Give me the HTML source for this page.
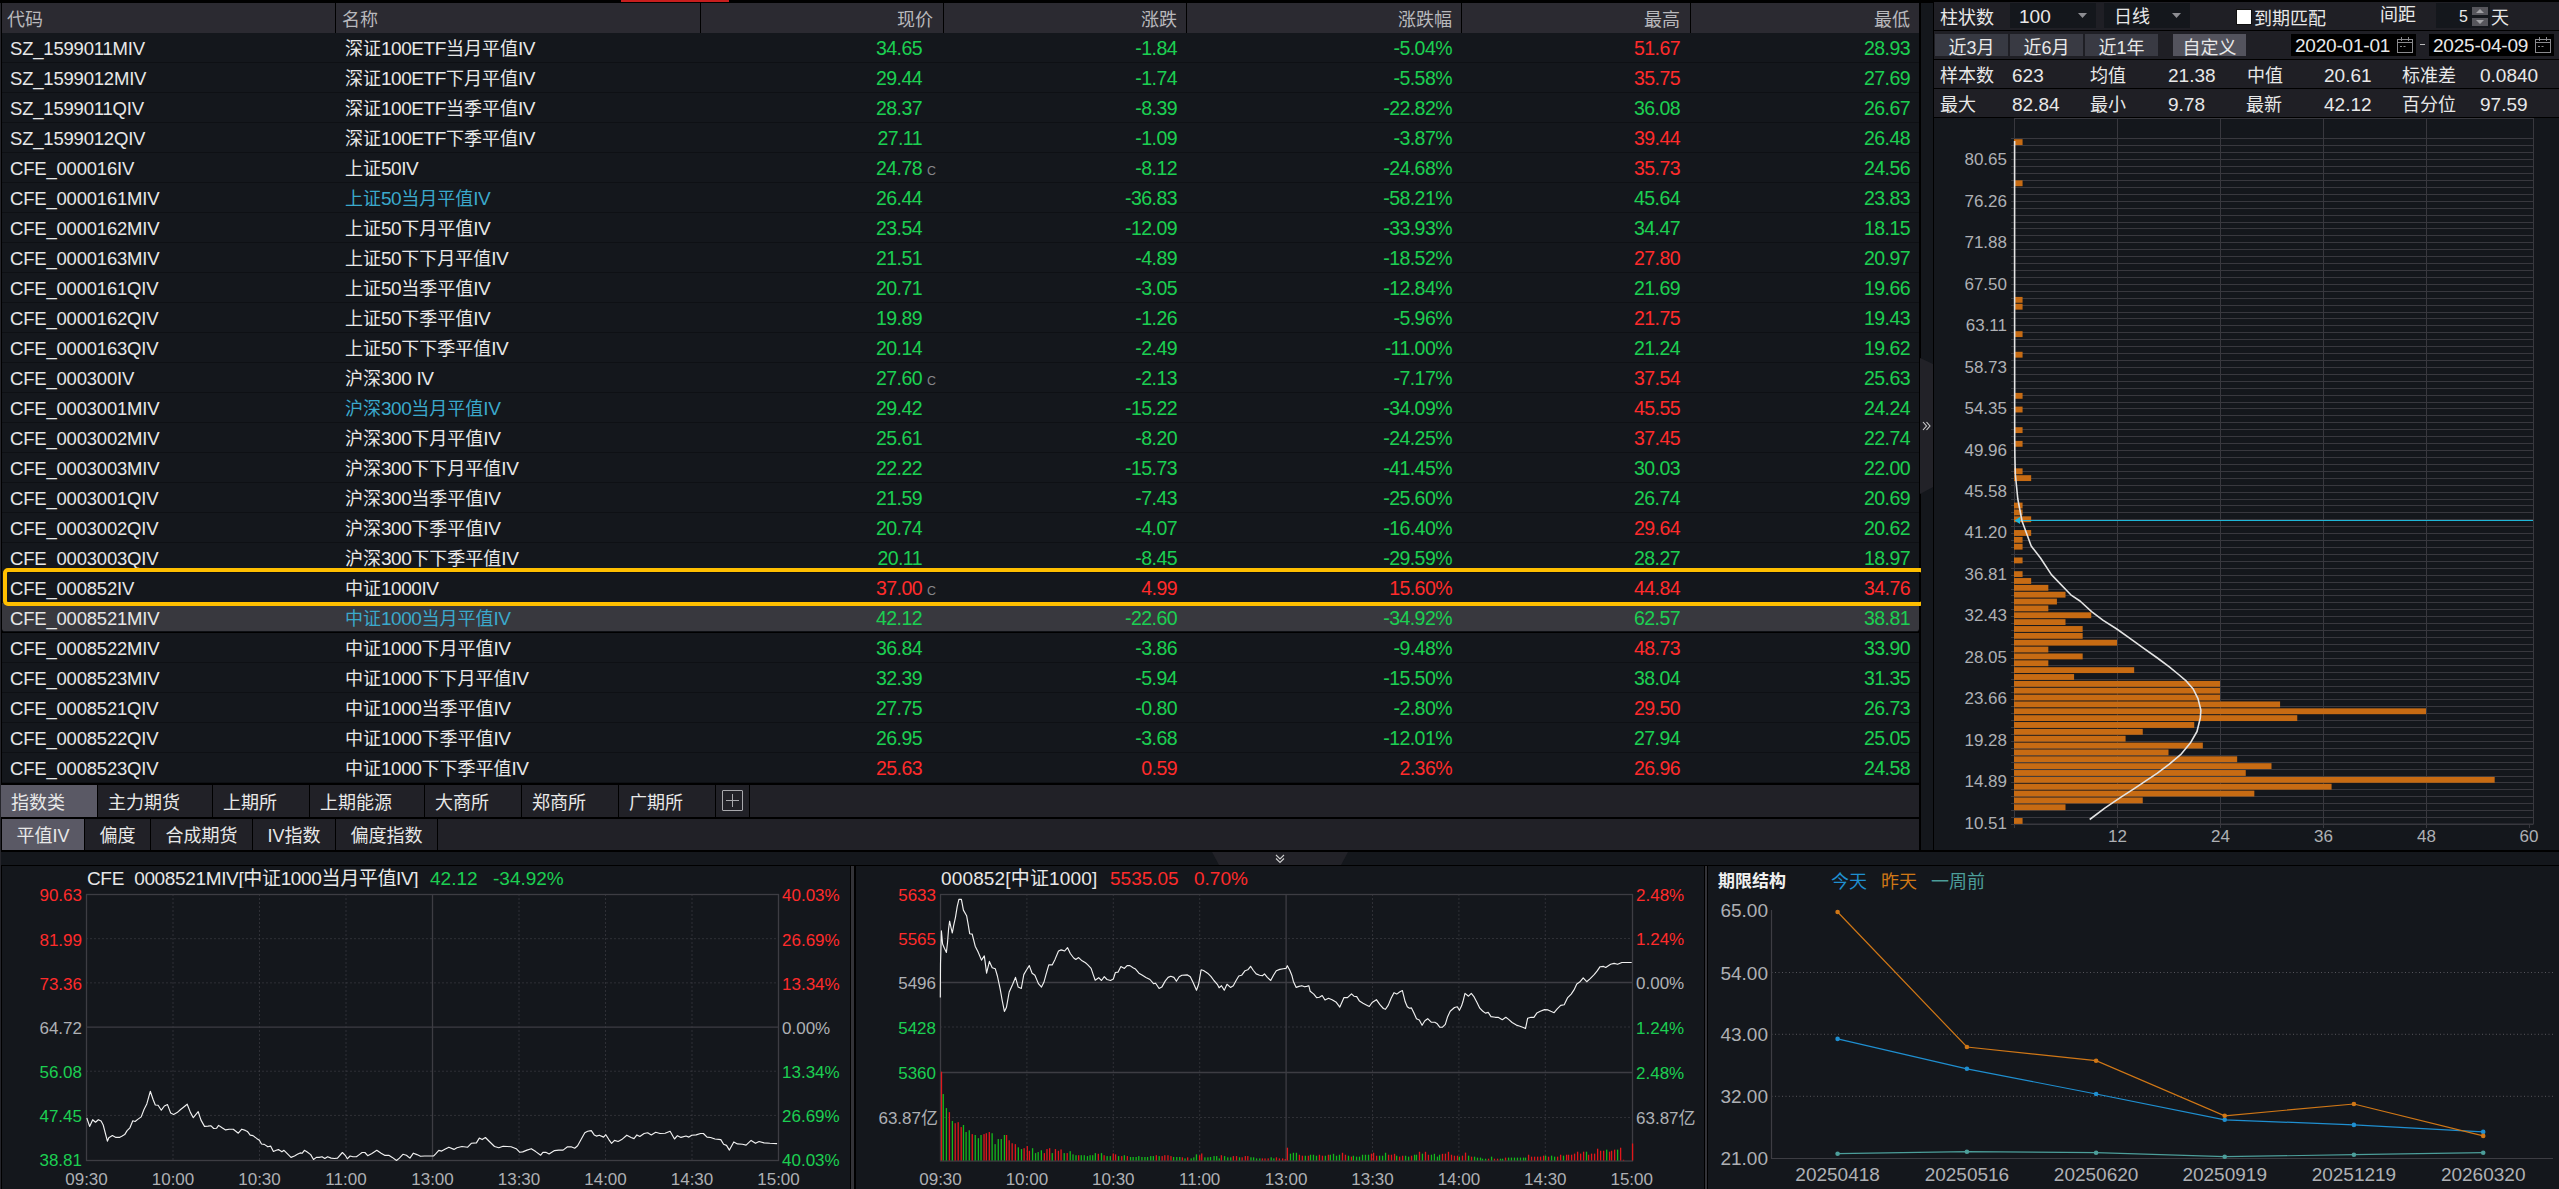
<!DOCTYPE html>
<html lang="zh-CN">
<head>
<meta charset="utf-8">
<title>IV</title>
<style>
html,body{margin:0;padding:0;background:#000;}
#root{position:relative;width:2559px;height:1189px;overflow:hidden;background:#000;font-family:"Liberation Sans", "Noto Sans CJK SC", sans-serif;color:#e8e8e8;}
.a{position:absolute;}
.t{position:absolute;white-space:nowrap;}
.hdr{position:absolute;top:3px;height:30px;background:#2b2a31;}
.ht{position:absolute;top:5px;height:30px;line-height:30px;font-size:18px;color:#b8b8bc;white-space:nowrap;}
.row{position:absolute;left:2px;width:1917px;height:29px;background:#14171c;border-bottom:1px solid #0e1014;}
.c{position:absolute;height:30px;line-height:30px;font-size:18px;margin-top:1px;white-space:nowrap;}
.r{text-align:right;}
.n{font-size:19.5px;letter-spacing:-0.55px;margin-top:0.4px;}
.cd{font-size:18.5px;letter-spacing:-0.2px;}
.ln{font-size:19px;letter-spacing:-0.45px;}
.g{color:#1ccf52;} .rd{color:#ff2b2b;} .cy{color:#3ba9cc;}
.mk{font-size:12.5px;color:#86868a;}
.tab{position:absolute;height:32px;line-height:36px;font-size:18px;color:#e8e8e8;background:#212127;white-space:nowrap;}
.tab2{position:absolute;height:31px;line-height:35px;font-size:18px;color:#e8e8e8;background:#212127;white-space:nowrap;text-align:center;}
.tb{position:absolute;font-size:18px;color:#e8e8e8;white-space:nowrap;}
.btn{position:absolute;top:34px;height:22px;line-height:28px;overflow:hidden;font-size:18px;text-align:center;color:#e8e8e8;background:#393a43;}
svg text{font-family:"Liberation Sans", "Noto Sans CJK SC", sans-serif;}
</style>
</head>
<body>
<div id="root">
<div class="a" style="left:0;top:3px;width:1px;height:1186px;background:#25252b"></div>
<div class="a" style="left:621px;top:0;width:108px;height:2px;background:#c81e1e"></div>
<div class="hdr" style="left:2px;width:1917px"></div>
<div class="a" style="left:335px;top:3px;width:1px;height:30px;background:#000"></div>
<div class="a" style="left:700px;top:3px;width:1px;height:30px;background:#000"></div>
<div class="a" style="left:943px;top:3px;width:1px;height:30px;background:#000"></div>
<div class="a" style="left:1186px;top:3px;width:1px;height:30px;background:#000"></div>
<div class="a" style="left:1461px;top:3px;width:1px;height:30px;background:#000"></div>
<div class="a" style="left:1690px;top:3px;width:1px;height:30px;background:#000"></div>
<div class="ht" style="left:7px">代码</div>
<div class="ht" style="left:342px">名称</div>
<div class="ht r" style="right:1626px">现价</div>
<div class="ht r" style="right:1382px">涨跌</div>
<div class="ht r" style="right:1107px">涨跌幅</div>
<div class="ht r" style="right:879px">最高</div>
<div class="ht r" style="right:649px">最低</div>
<div class="row" style="top:33px;"></div>
<div class="c cd" style="left:10px;top:33px">SZ_1599011MIV</div>
<div class="c" style="left:345px;top:33px">深证<span class="ln">100ETF</span>当月平值<span class="ln">IV</span></div>
<div class="c r n g" style="right:1637px;top:33px">34.65</div>
<div class="c r n g" style="right:1382px;top:33px">-1.84</div>
<div class="c r n g" style="right:1107px;top:33px">-5.04%</div>
<div class="c r n rd" style="right:879px;top:33px">51.67</div>
<div class="c r n g" style="right:649px;top:33px">28.93</div>
<div class="row" style="top:63px;"></div>
<div class="c cd" style="left:10px;top:63px">SZ_1599012MIV</div>
<div class="c" style="left:345px;top:63px">深证<span class="ln">100ETF</span>下月平值<span class="ln">IV</span></div>
<div class="c r n g" style="right:1637px;top:63px">29.44</div>
<div class="c r n g" style="right:1382px;top:63px">-1.74</div>
<div class="c r n g" style="right:1107px;top:63px">-5.58%</div>
<div class="c r n rd" style="right:879px;top:63px">35.75</div>
<div class="c r n g" style="right:649px;top:63px">27.69</div>
<div class="row" style="top:93px;"></div>
<div class="c cd" style="left:10px;top:93px">SZ_1599011QIV</div>
<div class="c" style="left:345px;top:93px">深证<span class="ln">100ETF</span>当季平值<span class="ln">IV</span></div>
<div class="c r n g" style="right:1637px;top:93px">28.37</div>
<div class="c r n g" style="right:1382px;top:93px">-8.39</div>
<div class="c r n g" style="right:1107px;top:93px">-22.82%</div>
<div class="c r n g" style="right:879px;top:93px">36.08</div>
<div class="c r n g" style="right:649px;top:93px">26.67</div>
<div class="row" style="top:123px;"></div>
<div class="c cd" style="left:10px;top:123px">SZ_1599012QIV</div>
<div class="c" style="left:345px;top:123px">深证<span class="ln">100ETF</span>下季平值<span class="ln">IV</span></div>
<div class="c r n g" style="right:1637px;top:123px">27.11</div>
<div class="c r n g" style="right:1382px;top:123px">-1.09</div>
<div class="c r n g" style="right:1107px;top:123px">-3.87%</div>
<div class="c r n rd" style="right:879px;top:123px">39.44</div>
<div class="c r n g" style="right:649px;top:123px">26.48</div>
<div class="row" style="top:153px;"></div>
<div class="c cd" style="left:10px;top:153px">CFE_000016IV</div>
<div class="c" style="left:345px;top:153px">上证<span class="ln">50IV</span></div>
<div class="c r n g" style="right:1637px;top:153px">24.78</div>
<div class="c mk" style="left:927px;top:155px">C</div>
<div class="c r n g" style="right:1382px;top:153px">-8.12</div>
<div class="c r n g" style="right:1107px;top:153px">-24.68%</div>
<div class="c r n rd" style="right:879px;top:153px">35.73</div>
<div class="c r n g" style="right:649px;top:153px">24.56</div>
<div class="row" style="top:183px;"></div>
<div class="c cd" style="left:10px;top:183px">CFE_0000161MIV</div>
<div class="c cy" style="left:345px;top:183px">上证<span class="ln">50</span>当月平值<span class="ln">IV</span></div>
<div class="c r n g" style="right:1637px;top:183px">26.44</div>
<div class="c r n g" style="right:1382px;top:183px">-36.83</div>
<div class="c r n g" style="right:1107px;top:183px">-58.21%</div>
<div class="c r n g" style="right:879px;top:183px">45.64</div>
<div class="c r n g" style="right:649px;top:183px">23.83</div>
<div class="row" style="top:213px;"></div>
<div class="c cd" style="left:10px;top:213px">CFE_0000162MIV</div>
<div class="c" style="left:345px;top:213px">上证<span class="ln">50</span>下月平值<span class="ln">IV</span></div>
<div class="c r n g" style="right:1637px;top:213px">23.54</div>
<div class="c r n g" style="right:1382px;top:213px">-12.09</div>
<div class="c r n g" style="right:1107px;top:213px">-33.93%</div>
<div class="c r n g" style="right:879px;top:213px">34.47</div>
<div class="c r n g" style="right:649px;top:213px">18.15</div>
<div class="row" style="top:243px;"></div>
<div class="c cd" style="left:10px;top:243px">CFE_0000163MIV</div>
<div class="c" style="left:345px;top:243px">上证<span class="ln">50</span>下下月平值<span class="ln">IV</span></div>
<div class="c r n g" style="right:1637px;top:243px">21.51</div>
<div class="c r n g" style="right:1382px;top:243px">-4.89</div>
<div class="c r n g" style="right:1107px;top:243px">-18.52%</div>
<div class="c r n rd" style="right:879px;top:243px">27.80</div>
<div class="c r n g" style="right:649px;top:243px">20.97</div>
<div class="row" style="top:273px;"></div>
<div class="c cd" style="left:10px;top:273px">CFE_0000161QIV</div>
<div class="c" style="left:345px;top:273px">上证<span class="ln">50</span>当季平值<span class="ln">IV</span></div>
<div class="c r n g" style="right:1637px;top:273px">20.71</div>
<div class="c r n g" style="right:1382px;top:273px">-3.05</div>
<div class="c r n g" style="right:1107px;top:273px">-12.84%</div>
<div class="c r n g" style="right:879px;top:273px">21.69</div>
<div class="c r n g" style="right:649px;top:273px">19.66</div>
<div class="row" style="top:303px;"></div>
<div class="c cd" style="left:10px;top:303px">CFE_0000162QIV</div>
<div class="c" style="left:345px;top:303px">上证<span class="ln">50</span>下季平值<span class="ln">IV</span></div>
<div class="c r n g" style="right:1637px;top:303px">19.89</div>
<div class="c r n g" style="right:1382px;top:303px">-1.26</div>
<div class="c r n g" style="right:1107px;top:303px">-5.96%</div>
<div class="c r n rd" style="right:879px;top:303px">21.75</div>
<div class="c r n g" style="right:649px;top:303px">19.43</div>
<div class="row" style="top:333px;"></div>
<div class="c cd" style="left:10px;top:333px">CFE_0000163QIV</div>
<div class="c" style="left:345px;top:333px">上证<span class="ln">50</span>下下季平值<span class="ln">IV</span></div>
<div class="c r n g" style="right:1637px;top:333px">20.14</div>
<div class="c r n g" style="right:1382px;top:333px">-2.49</div>
<div class="c r n g" style="right:1107px;top:333px">-11.00%</div>
<div class="c r n g" style="right:879px;top:333px">21.24</div>
<div class="c r n g" style="right:649px;top:333px">19.62</div>
<div class="row" style="top:363px;"></div>
<div class="c cd" style="left:10px;top:363px">CFE_000300IV</div>
<div class="c" style="left:345px;top:363px">沪深<span class="ln">300</span> <span class="ln">IV</span></div>
<div class="c r n g" style="right:1637px;top:363px">27.60</div>
<div class="c mk" style="left:927px;top:365px">C</div>
<div class="c r n g" style="right:1382px;top:363px">-2.13</div>
<div class="c r n g" style="right:1107px;top:363px">-7.17%</div>
<div class="c r n rd" style="right:879px;top:363px">37.54</div>
<div class="c r n g" style="right:649px;top:363px">25.63</div>
<div class="row" style="top:393px;"></div>
<div class="c cd" style="left:10px;top:393px">CFE_0003001MIV</div>
<div class="c cy" style="left:345px;top:393px">沪深<span class="ln">300</span>当月平值<span class="ln">IV</span></div>
<div class="c r n g" style="right:1637px;top:393px">29.42</div>
<div class="c r n g" style="right:1382px;top:393px">-15.22</div>
<div class="c r n g" style="right:1107px;top:393px">-34.09%</div>
<div class="c r n rd" style="right:879px;top:393px">45.55</div>
<div class="c r n g" style="right:649px;top:393px">24.24</div>
<div class="row" style="top:423px;"></div>
<div class="c cd" style="left:10px;top:423px">CFE_0003002MIV</div>
<div class="c" style="left:345px;top:423px">沪深<span class="ln">300</span>下月平值<span class="ln">IV</span></div>
<div class="c r n g" style="right:1637px;top:423px">25.61</div>
<div class="c r n g" style="right:1382px;top:423px">-8.20</div>
<div class="c r n g" style="right:1107px;top:423px">-24.25%</div>
<div class="c r n rd" style="right:879px;top:423px">37.45</div>
<div class="c r n g" style="right:649px;top:423px">22.74</div>
<div class="row" style="top:453px;"></div>
<div class="c cd" style="left:10px;top:453px">CFE_0003003MIV</div>
<div class="c" style="left:345px;top:453px">沪深<span class="ln">300</span>下下月平值<span class="ln">IV</span></div>
<div class="c r n g" style="right:1637px;top:453px">22.22</div>
<div class="c r n g" style="right:1382px;top:453px">-15.73</div>
<div class="c r n g" style="right:1107px;top:453px">-41.45%</div>
<div class="c r n g" style="right:879px;top:453px">30.03</div>
<div class="c r n g" style="right:649px;top:453px">22.00</div>
<div class="row" style="top:483px;"></div>
<div class="c cd" style="left:10px;top:483px">CFE_0003001QIV</div>
<div class="c" style="left:345px;top:483px">沪深<span class="ln">300</span>当季平值<span class="ln">IV</span></div>
<div class="c r n g" style="right:1637px;top:483px">21.59</div>
<div class="c r n g" style="right:1382px;top:483px">-7.43</div>
<div class="c r n g" style="right:1107px;top:483px">-25.60%</div>
<div class="c r n g" style="right:879px;top:483px">26.74</div>
<div class="c r n g" style="right:649px;top:483px">20.69</div>
<div class="row" style="top:513px;"></div>
<div class="c cd" style="left:10px;top:513px">CFE_0003002QIV</div>
<div class="c" style="left:345px;top:513px">沪深<span class="ln">300</span>下季平值<span class="ln">IV</span></div>
<div class="c r n g" style="right:1637px;top:513px">20.74</div>
<div class="c r n g" style="right:1382px;top:513px">-4.07</div>
<div class="c r n g" style="right:1107px;top:513px">-16.40%</div>
<div class="c r n rd" style="right:879px;top:513px">29.64</div>
<div class="c r n g" style="right:649px;top:513px">20.62</div>
<div class="row" style="top:543px;"></div>
<div class="c cd" style="left:10px;top:543px">CFE_0003003QIV</div>
<div class="c" style="left:345px;top:543px">沪深<span class="ln">300</span>下下季平值<span class="ln">IV</span></div>
<div class="c r n g" style="right:1637px;top:543px">20.11</div>
<div class="c r n g" style="right:1382px;top:543px">-8.45</div>
<div class="c r n g" style="right:1107px;top:543px">-29.59%</div>
<div class="c r n g" style="right:879px;top:543px">28.27</div>
<div class="c r n g" style="right:649px;top:543px">18.97</div>
<div class="row" style="top:573px;"></div>
<div class="c cd" style="left:10px;top:573px">CFE_000852IV</div>
<div class="c" style="left:345px;top:573px">中证<span class="ln">1000IV</span></div>
<div class="c r n rd" style="right:1637px;top:573px">37.00</div>
<div class="c mk" style="left:927px;top:575px">C</div>
<div class="c r n rd" style="right:1382px;top:573px">4.99</div>
<div class="c r n rd" style="right:1107px;top:573px">15.60%</div>
<div class="c r n rd" style="right:879px;top:573px">44.84</div>
<div class="c r n rd" style="right:649px;top:573px">34.76</div>
<div class="row" style="top:603px;background:#38383e;border-radius:0 0 3px 3px;height:28px;"></div>
<div class="c cd" style="left:10px;top:603px">CFE_0008521MIV</div>
<div class="c cy" style="left:345px;top:603px">中证<span class="ln">1000</span>当月平值<span class="ln">IV</span></div>
<div class="c r n g" style="right:1637px;top:603px">42.12</div>
<div class="c r n g" style="right:1382px;top:603px">-22.60</div>
<div class="c r n g" style="right:1107px;top:603px">-34.92%</div>
<div class="c r n g" style="right:879px;top:603px">62.57</div>
<div class="c r n g" style="right:649px;top:603px">38.81</div>
<div class="row" style="top:633px;"></div>
<div class="c cd" style="left:10px;top:633px">CFE_0008522MIV</div>
<div class="c" style="left:345px;top:633px">中证<span class="ln">1000</span>下月平值<span class="ln">IV</span></div>
<div class="c r n g" style="right:1637px;top:633px">36.84</div>
<div class="c r n g" style="right:1382px;top:633px">-3.86</div>
<div class="c r n g" style="right:1107px;top:633px">-9.48%</div>
<div class="c r n rd" style="right:879px;top:633px">48.73</div>
<div class="c r n g" style="right:649px;top:633px">33.90</div>
<div class="row" style="top:663px;"></div>
<div class="c cd" style="left:10px;top:663px">CFE_0008523MIV</div>
<div class="c" style="left:345px;top:663px">中证<span class="ln">1000</span>下下月平值<span class="ln">IV</span></div>
<div class="c r n g" style="right:1637px;top:663px">32.39</div>
<div class="c r n g" style="right:1382px;top:663px">-5.94</div>
<div class="c r n g" style="right:1107px;top:663px">-15.50%</div>
<div class="c r n g" style="right:879px;top:663px">38.04</div>
<div class="c r n g" style="right:649px;top:663px">31.35</div>
<div class="row" style="top:693px;"></div>
<div class="c cd" style="left:10px;top:693px">CFE_0008521QIV</div>
<div class="c" style="left:345px;top:693px">中证<span class="ln">1000</span>当季平值<span class="ln">IV</span></div>
<div class="c r n g" style="right:1637px;top:693px">27.75</div>
<div class="c r n g" style="right:1382px;top:693px">-0.80</div>
<div class="c r n g" style="right:1107px;top:693px">-2.80%</div>
<div class="c r n rd" style="right:879px;top:693px">29.50</div>
<div class="c r n g" style="right:649px;top:693px">26.73</div>
<div class="row" style="top:723px;"></div>
<div class="c cd" style="left:10px;top:723px">CFE_0008522QIV</div>
<div class="c" style="left:345px;top:723px">中证<span class="ln">1000</span>下季平值<span class="ln">IV</span></div>
<div class="c r n g" style="right:1637px;top:723px">26.95</div>
<div class="c r n g" style="right:1382px;top:723px">-3.68</div>
<div class="c r n g" style="right:1107px;top:723px">-12.01%</div>
<div class="c r n g" style="right:879px;top:723px">27.94</div>
<div class="c r n g" style="right:649px;top:723px">25.05</div>
<div class="row" style="top:753px;"></div>
<div class="c cd" style="left:10px;top:753px">CFE_0008523QIV</div>
<div class="c" style="left:345px;top:753px">中证<span class="ln">1000</span>下下季平值<span class="ln">IV</span></div>
<div class="c r n rd" style="right:1637px;top:753px">25.63</div>
<div class="c r n rd" style="right:1382px;top:753px">0.59</div>
<div class="c r n rd" style="right:1107px;top:753px">2.36%</div>
<div class="c r n rd" style="right:879px;top:753px">26.96</div>
<div class="c r n g" style="right:649px;top:753px">24.58</div>
<div class="a" style="left:3px;top:568px;width:1914px;height:30px;border:4px solid #ffbf00;border-radius:5px"></div>
<div class="tab" style="left:1px;top:785px;width:96px;padding-left:0;background:#5a5965;"><span style="position:absolute;left:10px">指数类</span></div>
<div class="tab" style="left:98px;top:785px;width:114px;padding-left:0;"><span style="position:absolute;left:10px">主力期货</span></div>
<div class="tab" style="left:213px;top:785px;width:96px;padding-left:0;"><span style="position:absolute;left:10px">上期所</span></div>
<div class="tab" style="left:310px;top:785px;width:114px;padding-left:0;"><span style="position:absolute;left:10px">上期能源</span></div>
<div class="tab" style="left:425px;top:785px;width:96px;padding-left:0;"><span style="position:absolute;left:10px">大商所</span></div>
<div class="tab" style="left:522px;top:785px;width:96px;padding-left:0;"><span style="position:absolute;left:10px">郑商所</span></div>
<div class="tab" style="left:619px;top:785px;width:96px;padding-left:0;"><span style="position:absolute;left:10px">广期所</span></div>
<div class="tab" style="left:716px;top:785px;width:33px"></div>
<div class="a" style="left:722px;top:790px;width:19px;height:19px;border:1px solid #a9a9ad;border-radius:1px"></div>
<div class="a" style="left:726px;top:800px;width:13px;height:1px;background:#a9a9ad"></div>
<div class="a" style="left:732px;top:794px;width:1px;height:13px;background:#a9a9ad"></div>
<div class="tab" style="left:750px;top:785px;width:1169px"></div>
<div class="tab2" style="left:2px;top:819px;width:82px;background:#5a5965;">平值IV</div>
<div class="tab2" style="left:85px;top:819px;width:65px;">偏度</div>
<div class="tab2" style="left:151px;top:819px;width:101px;">合成期货</div>
<div class="tab2" style="left:253px;top:819px;width:82px;">IV指数</div>
<div class="tab2" style="left:336px;top:819px;width:101px;">偏度指数</div>
<div class="tab2" style="left:438px;top:819px;width:1481px"></div>
<div class="a" style="left:1px;top:852px;width:2558px;height:13px;background:#14171c"></div>
<svg class="a" style="left:1212px;top:852px" width="136" height="13" viewBox="0 0 136 13"><polygon points="0,0 136,0 129,13 7,13" fill="#222228"/><polyline points="64,3 68,7 72,3" fill="none" stroke="#d0d0d0" stroke-width="1.1"/><polyline points="64,6.5 68,10.5 72,6.5" fill="none" stroke="#d0d0d0" stroke-width="1.1"/></svg>
<div class="a" style="left:1921px;top:3px;width:12px;height:847px;background:#14171c"></div>
<svg class="a" style="left:1920px;top:358px" width="14" height="137" viewBox="0 0 14 137"><polygon points="0,0 13,6 13,129 0,136" fill="#222228"/><polyline points="3,64 6.5,68 3,72" fill="none" stroke="#d0d0d0" stroke-width="1.1"/><polyline points="6.5,64 10,68 6.5,72" fill="none" stroke="#d0d0d0" stroke-width="1.1"/></svg>
<div class="a" style="left:1934px;top:118px;width:625px;height:732px;background:#14171c"></div>
<div class="a" style="left:1934px;top:2px;width:625px;height:28px;background:#1f1f25"></div>
<div class="a" style="left:1934px;top:31px;width:625px;height:28px;background:#1f1f25"></div>
<div class="a" style="left:1934px;top:60px;width:625px;height:28px;background:#1f1f25"></div>
<div class="a" style="left:1934px;top:89px;width:625px;height:28px;background:#1f1f25"></div>
<div class="tb" style="left:1940px;top:4px;line-height:28px">柱状数</div>
<div class="a" style="left:2010px;top:3px;width:86px;height:25px;background:#14171c"></div>
<div class="tb" style="left:2019px;top:4px;line-height:25px;font-size:19px">100</div>
<svg class="a" style="left:2078px;top:13px" width="9" height="6"><polygon points="0,0 9,0 4.5,5" fill="#8d8d92"/></svg>
<div class="a" style="left:2104px;top:3px;width:86px;height:25px;background:#14171c"></div>
<div class="tb" style="left:2114px;top:5px;line-height:25px">日线</div>
<svg class="a" style="left:2172px;top:13px" width="9" height="6"><polygon points="0,0 9,0 4.5,5" fill="#8d8d92"/></svg>
<div class="a" style="left:2236px;top:9px;width:14px;height:14px;background:#fff;border:1px solid #111"></div>
<div class="tb" style="left:2254px;top:5px;line-height:28px">到期匹配</div>
<div class="tb" style="left:2380px;top:1px;line-height:28px">间距</div>
<div class="a" style="left:2436px;top:3px;width:54px;height:25px;background:#14171c"></div>
<div class="tb" style="left:2459px;top:4px;line-height:25px;font-size:16px">5</div>
<div class="a" style="left:2472px;top:7px;width:16px;height:8px;background:#56565c"></div>
<div class="a" style="left:2472px;top:18px;width:16px;height:8px;background:#56565c"></div>
<svg class="a" style="left:2476px;top:9px" width="8" height="4"><polygon points="0,4 8,4 4,0" fill="#a0a0a4"/></svg>
<svg class="a" style="left:2476px;top:20px" width="8" height="4"><polygon points="0,0 8,0 4,4" fill="#a0a0a4"/></svg>
<div class="tb" style="left:2491px;top:4px;line-height:28px">天</div>
<div class="btn" style="left:1935px;width:73px;background:#373942">近3月</div>
<div class="btn" style="left:2010px;width:73px;background:#393a43">近6月</div>
<div class="btn" style="left:2085px;width:73px;background:#393a43">近1年</div>
<div class="btn" style="left:2173px;width:73px;background:#53535d">自定义</div>
<div class="a" style="left:2291px;top:34px;width:125px;height:22px;background:#000"></div>
<div class="tb" style="left:2295px;top:34px;line-height:24px;font-size:19px;letter-spacing:-0.2px">2020-01-01</div>
<svg class="a" style="left:2396px;top:36px" width="18" height="18" viewBox="0 0 18 18"><rect x="1.5" y="3.5" width="15" height="13" fill="none" stroke="#8a8a8e" stroke-width="1"/><line x1="1.5" y1="6.5" x2="16.5" y2="6.5" stroke="#8a8a8e"/><line x1="5.5" y1="1" x2="5.5" y2="5" stroke="#8a8a8e"/><line x1="12.5" y1="1" x2="12.5" y2="5" stroke="#8a8a8e"/><line x1="4" y1="10.5" x2="6" y2="10.5" stroke="#8a8a8e"/><line x1="7.5" y1="10.5" x2="9.5" y2="10.5" stroke="#8a8a8e"/></svg>
<div class="a" style="left:2429px;top:34px;width:125px;height:22px;background:#000"></div>
<div class="tb" style="left:2433px;top:34px;line-height:24px;font-size:19px;letter-spacing:-0.2px">2025-04-09</div>
<svg class="a" style="left:2534px;top:36px" width="18" height="18" viewBox="0 0 18 18"><rect x="1.5" y="3.5" width="15" height="13" fill="none" stroke="#8a8a8e" stroke-width="1"/><line x1="1.5" y1="6.5" x2="16.5" y2="6.5" stroke="#8a8a8e"/><line x1="5.5" y1="1" x2="5.5" y2="5" stroke="#8a8a8e"/><line x1="12.5" y1="1" x2="12.5" y2="5" stroke="#8a8a8e"/><line x1="4" y1="10.5" x2="6" y2="10.5" stroke="#8a8a8e"/><line x1="7.5" y1="10.5" x2="9.5" y2="10.5" stroke="#8a8a8e"/></svg>
<div class="a" style="left:2420px;top:44px;width:5px;height:1px;background:#bbb"></div>
<div class="tb" style="left:1940px;top:62px;line-height:28px;font-size:18px">样本数</div>
<div class="tb" style="left:2012px;top:62px;line-height:28px;font-size:19px">623</div>
<div class="tb" style="left:2090px;top:62px;line-height:28px;font-size:18px">均值</div>
<div class="tb" style="left:2168px;top:62px;line-height:28px;font-size:19px">21.38</div>
<div class="tb" style="left:2247px;top:62px;line-height:28px;font-size:18px">中值</div>
<div class="tb" style="left:2324px;top:62px;line-height:28px;font-size:19px">20.61</div>
<div class="tb" style="left:2402px;top:62px;line-height:28px;font-size:18px">标准差</div>
<div class="tb" style="left:2480px;top:62px;line-height:28px;font-size:19px">0.0840</div>
<div class="tb" style="left:1940px;top:91px;line-height:28px;font-size:18px">最大</div>
<div class="tb" style="left:2012px;top:91px;line-height:28px;font-size:19px">82.84</div>
<div class="tb" style="left:2090px;top:91px;line-height:28px;font-size:18px">最小</div>
<div class="tb" style="left:2168px;top:91px;line-height:28px;font-size:19px">9.78</div>
<div class="tb" style="left:2246px;top:91px;line-height:28px;font-size:18px">最新</div>
<div class="tb" style="left:2324px;top:91px;line-height:28px;font-size:19px">42.12</div>
<div class="tb" style="left:2402px;top:91px;line-height:28px;font-size:18px">百分位</div>
<div class="tb" style="left:2480px;top:91px;line-height:28px;font-size:19px">97.59</div>
<svg class="a" style="left:1934px;top:118px" width="625" height="732" viewBox="1934 118 625 732"><line x1="2011" y1="824.5" x2="2533" y2="824.5" stroke="#38383e" stroke-width="1"/><line x1="2011" y1="817.5" x2="2533" y2="817.5" stroke="#38383e" stroke-width="1"/><line x1="2011" y1="810.5" x2="2533" y2="810.5" stroke="#38383e" stroke-width="1"/><line x1="2011" y1="803.5" x2="2533" y2="803.5" stroke="#38383e" stroke-width="1"/><line x1="2011" y1="796.5" x2="2533" y2="796.5" stroke="#38383e" stroke-width="1"/><line x1="2011" y1="789.5" x2="2533" y2="789.5" stroke="#38383e" stroke-width="1"/><line x1="2011" y1="782.5" x2="2533" y2="782.5" stroke="#38383e" stroke-width="1"/><line x1="2011" y1="776.5" x2="2533" y2="776.5" stroke="#38383e" stroke-width="1"/><line x1="2011" y1="769.5" x2="2533" y2="769.5" stroke="#38383e" stroke-width="1"/><line x1="2011" y1="762.5" x2="2533" y2="762.5" stroke="#38383e" stroke-width="1"/><line x1="2011" y1="755.5" x2="2533" y2="755.5" stroke="#38383e" stroke-width="1"/><line x1="2011" y1="748.5" x2="2533" y2="748.5" stroke="#38383e" stroke-width="1"/><line x1="2011" y1="741.5" x2="2533" y2="741.5" stroke="#38383e" stroke-width="1"/><line x1="2011" y1="734.5" x2="2533" y2="734.5" stroke="#38383e" stroke-width="1"/><line x1="2011" y1="727.5" x2="2533" y2="727.5" stroke="#38383e" stroke-width="1"/><line x1="2011" y1="720.5" x2="2533" y2="720.5" stroke="#38383e" stroke-width="1"/><line x1="2011" y1="713.5" x2="2533" y2="713.5" stroke="#38383e" stroke-width="1"/><line x1="2011" y1="706.5" x2="2533" y2="706.5" stroke="#38383e" stroke-width="1"/><line x1="2011" y1="699.5" x2="2533" y2="699.5" stroke="#38383e" stroke-width="1"/><line x1="2011" y1="692.5" x2="2533" y2="692.5" stroke="#38383e" stroke-width="1"/><line x1="2011" y1="686.5" x2="2533" y2="686.5" stroke="#38383e" stroke-width="1"/><line x1="2011" y1="679.5" x2="2533" y2="679.5" stroke="#38383e" stroke-width="1"/><line x1="2011" y1="672.5" x2="2533" y2="672.5" stroke="#38383e" stroke-width="1"/><line x1="2011" y1="665.5" x2="2533" y2="665.5" stroke="#38383e" stroke-width="1"/><line x1="2011" y1="658.5" x2="2533" y2="658.5" stroke="#38383e" stroke-width="1"/><line x1="2011" y1="651.5" x2="2533" y2="651.5" stroke="#38383e" stroke-width="1"/><line x1="2011" y1="644.5" x2="2533" y2="644.5" stroke="#38383e" stroke-width="1"/><line x1="2011" y1="637.5" x2="2533" y2="637.5" stroke="#38383e" stroke-width="1"/><line x1="2011" y1="630.5" x2="2533" y2="630.5" stroke="#38383e" stroke-width="1"/><line x1="2011" y1="623.5" x2="2533" y2="623.5" stroke="#38383e" stroke-width="1"/><line x1="2011" y1="616.5" x2="2533" y2="616.5" stroke="#38383e" stroke-width="1"/><line x1="2011" y1="609.5" x2="2533" y2="609.5" stroke="#38383e" stroke-width="1"/><line x1="2011" y1="602.5" x2="2533" y2="602.5" stroke="#38383e" stroke-width="1"/><line x1="2011" y1="595.5" x2="2533" y2="595.5" stroke="#38383e" stroke-width="1"/><line x1="2011" y1="589.5" x2="2533" y2="589.5" stroke="#38383e" stroke-width="1"/><line x1="2011" y1="582.5" x2="2533" y2="582.5" stroke="#38383e" stroke-width="1"/><line x1="2011" y1="575.5" x2="2533" y2="575.5" stroke="#38383e" stroke-width="1"/><line x1="2011" y1="568.5" x2="2533" y2="568.5" stroke="#38383e" stroke-width="1"/><line x1="2011" y1="561.5" x2="2533" y2="561.5" stroke="#38383e" stroke-width="1"/><line x1="2011" y1="554.5" x2="2533" y2="554.5" stroke="#38383e" stroke-width="1"/><line x1="2011" y1="547.5" x2="2533" y2="547.5" stroke="#38383e" stroke-width="1"/><line x1="2011" y1="540.5" x2="2533" y2="540.5" stroke="#38383e" stroke-width="1"/><line x1="2011" y1="533.5" x2="2533" y2="533.5" stroke="#38383e" stroke-width="1"/><line x1="2011" y1="526.5" x2="2533" y2="526.5" stroke="#38383e" stroke-width="1"/><line x1="2011" y1="519.5" x2="2533" y2="519.5" stroke="#38383e" stroke-width="1"/><line x1="2011" y1="512.5" x2="2533" y2="512.5" stroke="#38383e" stroke-width="1"/><line x1="2011" y1="505.5" x2="2533" y2="505.5" stroke="#38383e" stroke-width="1"/><line x1="2011" y1="499.5" x2="2533" y2="499.5" stroke="#38383e" stroke-width="1"/><line x1="2011" y1="492.5" x2="2533" y2="492.5" stroke="#38383e" stroke-width="1"/><line x1="2011" y1="485.5" x2="2533" y2="485.5" stroke="#38383e" stroke-width="1"/><line x1="2011" y1="478.5" x2="2533" y2="478.5" stroke="#38383e" stroke-width="1"/><line x1="2011" y1="471.5" x2="2533" y2="471.5" stroke="#38383e" stroke-width="1"/><line x1="2011" y1="464.5" x2="2533" y2="464.5" stroke="#38383e" stroke-width="1"/><line x1="2011" y1="457.5" x2="2533" y2="457.5" stroke="#38383e" stroke-width="1"/><line x1="2011" y1="450.5" x2="2533" y2="450.5" stroke="#38383e" stroke-width="1"/><line x1="2011" y1="443.5" x2="2533" y2="443.5" stroke="#38383e" stroke-width="1"/><line x1="2011" y1="436.5" x2="2533" y2="436.5" stroke="#38383e" stroke-width="1"/><line x1="2011" y1="429.5" x2="2533" y2="429.5" stroke="#38383e" stroke-width="1"/><line x1="2011" y1="422.5" x2="2533" y2="422.5" stroke="#38383e" stroke-width="1"/><line x1="2011" y1="415.5" x2="2533" y2="415.5" stroke="#38383e" stroke-width="1"/><line x1="2011" y1="408.5" x2="2533" y2="408.5" stroke="#38383e" stroke-width="1"/><line x1="2011" y1="402.5" x2="2533" y2="402.5" stroke="#38383e" stroke-width="1"/><line x1="2011" y1="395.5" x2="2533" y2="395.5" stroke="#38383e" stroke-width="1"/><line x1="2011" y1="388.5" x2="2533" y2="388.5" stroke="#38383e" stroke-width="1"/><line x1="2011" y1="381.5" x2="2533" y2="381.5" stroke="#38383e" stroke-width="1"/><line x1="2011" y1="374.5" x2="2533" y2="374.5" stroke="#38383e" stroke-width="1"/><line x1="2011" y1="367.5" x2="2533" y2="367.5" stroke="#38383e" stroke-width="1"/><line x1="2011" y1="360.5" x2="2533" y2="360.5" stroke="#38383e" stroke-width="1"/><line x1="2011" y1="353.5" x2="2533" y2="353.5" stroke="#38383e" stroke-width="1"/><line x1="2011" y1="346.5" x2="2533" y2="346.5" stroke="#38383e" stroke-width="1"/><line x1="2011" y1="339.5" x2="2533" y2="339.5" stroke="#38383e" stroke-width="1"/><line x1="2011" y1="332.5" x2="2533" y2="332.5" stroke="#38383e" stroke-width="1"/><line x1="2011" y1="325.5" x2="2533" y2="325.5" stroke="#38383e" stroke-width="1"/><line x1="2011" y1="318.5" x2="2533" y2="318.5" stroke="#38383e" stroke-width="1"/><line x1="2011" y1="312.5" x2="2533" y2="312.5" stroke="#38383e" stroke-width="1"/><line x1="2011" y1="305.5" x2="2533" y2="305.5" stroke="#38383e" stroke-width="1"/><line x1="2011" y1="298.5" x2="2533" y2="298.5" stroke="#38383e" stroke-width="1"/><line x1="2011" y1="291.5" x2="2533" y2="291.5" stroke="#38383e" stroke-width="1"/><line x1="2011" y1="284.5" x2="2533" y2="284.5" stroke="#38383e" stroke-width="1"/><line x1="2011" y1="277.5" x2="2533" y2="277.5" stroke="#38383e" stroke-width="1"/><line x1="2011" y1="270.5" x2="2533" y2="270.5" stroke="#38383e" stroke-width="1"/><line x1="2011" y1="263.5" x2="2533" y2="263.5" stroke="#38383e" stroke-width="1"/><line x1="2011" y1="256.5" x2="2533" y2="256.5" stroke="#38383e" stroke-width="1"/><line x1="2011" y1="249.5" x2="2533" y2="249.5" stroke="#38383e" stroke-width="1"/><line x1="2011" y1="242.5" x2="2533" y2="242.5" stroke="#38383e" stroke-width="1"/><line x1="2011" y1="235.5" x2="2533" y2="235.5" stroke="#38383e" stroke-width="1"/><line x1="2011" y1="228.5" x2="2533" y2="228.5" stroke="#38383e" stroke-width="1"/><line x1="2011" y1="222.5" x2="2533" y2="222.5" stroke="#38383e" stroke-width="1"/><line x1="2011" y1="215.5" x2="2533" y2="215.5" stroke="#38383e" stroke-width="1"/><line x1="2011" y1="208.5" x2="2533" y2="208.5" stroke="#38383e" stroke-width="1"/><line x1="2011" y1="201.5" x2="2533" y2="201.5" stroke="#38383e" stroke-width="1"/><line x1="2011" y1="194.5" x2="2533" y2="194.5" stroke="#38383e" stroke-width="1"/><line x1="2011" y1="187.5" x2="2533" y2="187.5" stroke="#38383e" stroke-width="1"/><line x1="2011" y1="180.5" x2="2533" y2="180.5" stroke="#38383e" stroke-width="1"/><line x1="2011" y1="173.5" x2="2533" y2="173.5" stroke="#38383e" stroke-width="1"/><line x1="2011" y1="166.5" x2="2533" y2="166.5" stroke="#38383e" stroke-width="1"/><line x1="2011" y1="159.5" x2="2533" y2="159.5" stroke="#38383e" stroke-width="1"/><line x1="2011" y1="152.5" x2="2533" y2="152.5" stroke="#38383e" stroke-width="1"/><line x1="2011" y1="145.5" x2="2533" y2="145.5" stroke="#38383e" stroke-width="1"/><line x1="2011" y1="138.5" x2="2533" y2="138.5" stroke="#38383e" stroke-width="1"/><line x1="2117.5" y1="118" x2="2117.5" y2="824" stroke="#38383e" stroke-width="1"/><line x1="2220.5" y1="118" x2="2220.5" y2="824" stroke="#38383e" stroke-width="1"/><line x1="2323.5" y1="118" x2="2323.5" y2="824" stroke="#38383e" stroke-width="1"/><line x1="2426.5" y1="118" x2="2426.5" y2="824" stroke="#38383e" stroke-width="1"/><rect x="2014.5" y="118.5" width="519" height="705.5" fill="none" stroke="#38383e" stroke-width="1"/><line x1="2014.5" y1="824" x2="2014.5" y2="828" stroke="#38383e" stroke-width="1"/><line x1="2117.5" y1="824" x2="2117.5" y2="828" stroke="#38383e" stroke-width="1"/><line x1="2220.5" y1="824" x2="2220.5" y2="828" stroke="#38383e" stroke-width="1"/><line x1="2323.5" y1="824" x2="2323.5" y2="828" stroke="#38383e" stroke-width="1"/><line x1="2426.5" y1="824" x2="2426.5" y2="828" stroke="#38383e" stroke-width="1"/><line x1="2529.5" y1="824" x2="2529.5" y2="828" stroke="#38383e" stroke-width="1"/><rect x="2014" y="818.04" width="8.58" height="5.86" fill="#c76b13"/><rect x="2014" y="804.33" width="51.50" height="5.86" fill="#c76b13"/><rect x="2014" y="797.47" width="128.75" height="5.86" fill="#c76b13"/><rect x="2014" y="790.62" width="240.33" height="5.86" fill="#c76b13"/><rect x="2014" y="783.76" width="317.58" height="5.86" fill="#c76b13"/><rect x="2014" y="776.90" width="480.67" height="5.86" fill="#c76b13"/><rect x="2014" y="770.04" width="231.75" height="5.86" fill="#c76b13"/><rect x="2014" y="763.19" width="257.50" height="5.86" fill="#c76b13"/><rect x="2014" y="756.33" width="223.17" height="5.86" fill="#c76b13"/><rect x="2014" y="749.47" width="154.50" height="5.86" fill="#c76b13"/><rect x="2014" y="742.62" width="188.83" height="5.86" fill="#c76b13"/><rect x="2014" y="735.76" width="111.58" height="5.86" fill="#c76b13"/><rect x="2014" y="728.90" width="128.75" height="5.86" fill="#c76b13"/><rect x="2014" y="722.04" width="180.25" height="5.86" fill="#c76b13"/><rect x="2014" y="715.19" width="283.25" height="5.86" fill="#c76b13"/><rect x="2014" y="708.33" width="412.00" height="5.86" fill="#c76b13"/><rect x="2014" y="701.47" width="266.08" height="5.86" fill="#c76b13"/><rect x="2014" y="694.62" width="206.00" height="5.86" fill="#c76b13"/><rect x="2014" y="687.76" width="206.00" height="5.86" fill="#c76b13"/><rect x="2014" y="680.90" width="206.00" height="5.86" fill="#c76b13"/><rect x="2014" y="674.05" width="60.08" height="5.86" fill="#c76b13"/><rect x="2014" y="667.19" width="120.17" height="5.86" fill="#c76b13"/><rect x="2014" y="660.33" width="34.33" height="5.86" fill="#c76b13"/><rect x="2014" y="653.48" width="68.67" height="5.86" fill="#c76b13"/><rect x="2014" y="646.62" width="34.33" height="5.86" fill="#c76b13"/><rect x="2014" y="639.76" width="103.00" height="5.86" fill="#c76b13"/><rect x="2014" y="632.90" width="68.67" height="5.86" fill="#c76b13"/><rect x="2014" y="626.05" width="68.67" height="5.86" fill="#c76b13"/><rect x="2014" y="619.19" width="51.50" height="5.86" fill="#c76b13"/><rect x="2014" y="612.33" width="77.25" height="5.86" fill="#c76b13"/><rect x="2014" y="605.48" width="34.33" height="5.86" fill="#c76b13"/><rect x="2014" y="598.62" width="42.92" height="5.86" fill="#c76b13"/><rect x="2014" y="591.76" width="51.50" height="5.86" fill="#c76b13"/><rect x="2014" y="584.90" width="34.33" height="5.86" fill="#c76b13"/><rect x="2014" y="578.05" width="17.17" height="5.86" fill="#c76b13"/><rect x="2014" y="571.19" width="8.58" height="5.86" fill="#c76b13"/><rect x="2014" y="557.48" width="8.58" height="5.86" fill="#c76b13"/><rect x="2014" y="543.76" width="8.58" height="5.86" fill="#c76b13"/><rect x="2014" y="536.91" width="8.58" height="5.86" fill="#c76b13"/><rect x="2014" y="530.05" width="17.17" height="5.86" fill="#c76b13"/><rect x="2014" y="516.33" width="17.17" height="5.86" fill="#c76b13"/><rect x="2014" y="509.48" width="8.58" height="5.86" fill="#c76b13"/><rect x="2014" y="502.62" width="8.58" height="5.86" fill="#c76b13"/><rect x="2014" y="475.19" width="17.17" height="5.86" fill="#c76b13"/><rect x="2014" y="468.34" width="8.58" height="5.86" fill="#c76b13"/><rect x="2014" y="440.91" width="8.58" height="5.86" fill="#c76b13"/><rect x="2014" y="427.19" width="8.58" height="5.86" fill="#c76b13"/><rect x="2014" y="406.62" width="8.58" height="5.86" fill="#c76b13"/><rect x="2014" y="392.91" width="8.58" height="5.86" fill="#c76b13"/><rect x="2014" y="351.77" width="8.58" height="5.86" fill="#c76b13"/><rect x="2014" y="331.20" width="8.58" height="5.86" fill="#c76b13"/><rect x="2014" y="303.77" width="8.58" height="5.86" fill="#c76b13"/><rect x="2014" y="296.91" width="8.58" height="5.86" fill="#c76b13"/><rect x="2014" y="180.34" width="8.58" height="5.86" fill="#c76b13"/><rect x="2014" y="139.20" width="8.58" height="5.86" fill="#c76b13"/><text x="2007" y="828.8" text-anchor="end" font-size="17" fill="#aeb0b4">10.51</text><text x="2007" y="787.3" text-anchor="end" font-size="17" fill="#aeb0b4">14.89</text><text x="2007" y="745.8" text-anchor="end" font-size="17" fill="#aeb0b4">19.28</text><text x="2007" y="704.4" text-anchor="end" font-size="17" fill="#aeb0b4">23.66</text><text x="2007" y="662.9" text-anchor="end" font-size="17" fill="#aeb0b4">28.05</text><text x="2007" y="621.4" text-anchor="end" font-size="17" fill="#aeb0b4">32.43</text><text x="2007" y="579.9" text-anchor="end" font-size="17" fill="#aeb0b4">36.81</text><text x="2007" y="538.4" text-anchor="end" font-size="17" fill="#aeb0b4">41.20</text><text x="2007" y="497.0" text-anchor="end" font-size="17" fill="#aeb0b4">45.58</text><text x="2007" y="455.5" text-anchor="end" font-size="17" fill="#aeb0b4">49.96</text><text x="2007" y="414.0" text-anchor="end" font-size="17" fill="#aeb0b4">54.35</text><text x="2007" y="372.5" text-anchor="end" font-size="17" fill="#aeb0b4">58.73</text><text x="2007" y="331.0" text-anchor="end" font-size="17" fill="#aeb0b4">63.11</text><text x="2007" y="289.6" text-anchor="end" font-size="17" fill="#aeb0b4">67.50</text><text x="2007" y="248.1" text-anchor="end" font-size="17" fill="#aeb0b4">71.88</text><text x="2007" y="206.6" text-anchor="end" font-size="17" fill="#aeb0b4">76.26</text><text x="2007" y="165.1" text-anchor="end" font-size="17" fill="#aeb0b4">80.65</text><text x="2117.5" y="842" text-anchor="middle" font-size="17" fill="#aeb0b4">12</text><text x="2220.5" y="842" text-anchor="middle" font-size="17" fill="#aeb0b4">24</text><text x="2323.5" y="842" text-anchor="middle" font-size="17" fill="#aeb0b4">36</text><text x="2426.5" y="842" text-anchor="middle" font-size="17" fill="#aeb0b4">48</text><text x="2529" y="842" text-anchor="middle" font-size="17" fill="#aeb0b4">60</text><line x1="2016" y1="520.5" x2="2533" y2="520.5" stroke="#1fb7d8" stroke-width="1.2"/><polygon points="2014.5,520.5 2020,517 2020,524" fill="#1fb7d8"/><polyline points="2014.6,141.0 2014.6,300.0 2014.7,440.0 2014.9,457.0 2015.3,474.0 2017.8,499.0 2022.0,521.0 2031.2,546.0 2040.5,558.0 2051.4,574.6 2070.8,594.8 2080.0,601.0 2091.6,611.6 2103.2,620.3 2116.8,629.0 2130.3,638.7 2143.8,648.4 2157.4,658.0 2169.0,666.7 2178.6,674.5 2186.4,681.2 2193.2,689.0 2198.0,698.6 2200.9,710.3 2200.3,718.0 2197.0,731.5 2190.3,743.1 2180.6,754.7 2169.0,764.4 2157.4,773.1 2145.8,780.9 2134.2,788.6 2120.6,797.3 2105.1,807.9 2089.7,819.5" fill="none" stroke="#e4e4e4" stroke-width="1.6" stroke-linejoin="round"/></svg>
<div class="a" style="left:2px;top:866px;width:848px;height:323px;background:#14171c"></div>
<div class="a" style="left:851px;top:866px;width:3px;height:323px;background:#333338"></div>
<div class="a" style="left:856px;top:866px;width:848px;height:323px;background:#14171c"></div>
<div class="a" style="left:1705px;top:866px;width:2px;height:323px;background:#333338"></div>
<div class="a" style="left:1708px;top:866px;width:851px;height:323px;background:#14171c"></div>
<svg class="a" style="left:0;top:866px" width="856" height="323" viewBox="0 866 856 323"><line x1="86.5" y1="938.68" x2="778.5" y2="938.68" stroke="#4a4a50" stroke-width="1" stroke-dasharray="1,3"/><line x1="86.5" y1="982.86" x2="778.5" y2="982.86" stroke="#4a4a50" stroke-width="1" stroke-dasharray="1,3"/><line x1="86.5" y1="1071.22" x2="778.5" y2="1071.22" stroke="#4a4a50" stroke-width="1" stroke-dasharray="1,3"/><line x1="86.5" y1="1115.4" x2="778.5" y2="1115.4" stroke="#4a4a50" stroke-width="1" stroke-dasharray="1,3"/><line x1="173.0" y1="894.5" x2="173.0" y2="1160.5" stroke="#4a4a50" stroke-width="1" stroke-dasharray="1,3"/><line x1="259.5" y1="894.5" x2="259.5" y2="1160.5" stroke="#4a4a50" stroke-width="1" stroke-dasharray="1,3"/><line x1="346.0" y1="894.5" x2="346.0" y2="1160.5" stroke="#4a4a50" stroke-width="1" stroke-dasharray="1,3"/><line x1="519.0" y1="894.5" x2="519.0" y2="1160.5" stroke="#4a4a50" stroke-width="1" stroke-dasharray="1,3"/><line x1="605.5" y1="894.5" x2="605.5" y2="1160.5" stroke="#4a4a50" stroke-width="1" stroke-dasharray="1,3"/><line x1="692.0" y1="894.5" x2="692.0" y2="1160.5" stroke="#4a4a50" stroke-width="1" stroke-dasharray="1,3"/><line x1="86.5" y1="1027.04" x2="778.5" y2="1027.04" stroke="#3d3d43" stroke-width="1.3"/><line x1="432.5" y1="894.5" x2="432.5" y2="1160.5" stroke="#3d3d43" stroke-width="1.3"/><rect x="86.5" y="894.5" width="692.0" height="266.0" fill="none" stroke="#3d3d43" stroke-width="1.3"/><polyline points="86.8,1118.0 89.6,1126.4 92.7,1119.7 95.5,1122.2 98.3,1119.7 101.1,1121.1 103.2,1125.0 107.4,1141.2 108.8,1137.7 112.4,1135.6 115.9,1137.4 119.4,1137.4 122.2,1136.0 124.7,1134.6 127.1,1130.6 129.9,1127.8 132.8,1120.8 135.1,1121.5 137.7,1119.4 141.2,1116.9 144.0,1109.5 146.8,1103.9 150.3,1091.3 153.2,1099.7 155.3,1105.0 158.1,1105.3 161.3,1110.2 164.4,1106.0 167.5,1104.6 170.7,1113.1 173.6,1114.5 177.1,1112.6 180.6,1109.5 184.1,1106.7 187.2,1104.2 190.4,1112.4 193.3,1117.7 198.2,1111.7 201.0,1120.1 204.5,1126.4 208.0,1126.1 210.8,1125.7 213.7,1128.5 216.5,1128.3 218.6,1125.4 222.1,1127.8 225.6,1129.9 229.1,1129.2 233.3,1129.2 238.3,1133.2 241.8,1129.2 245.3,1130.4 247.4,1131.4 250.2,1135.1 253.0,1135.6 256.6,1138.4 259.4,1140.2 261.5,1144.0 264.3,1144.4 267.8,1146.8 270.6,1146.1 273.4,1151.5 276.3,1150.3 278.4,1149.6 281.9,1151.8 284.0,1150.3 287.5,1153.9 291.0,1157.4 294.5,1156.0 297.4,1154.3 300.2,1152.9 302.3,1153.2 304.4,1150.3 307.2,1152.0 310.7,1154.6 313.5,1159.5 316.4,1157.4 319.2,1157.4 322.0,1156.7 324.8,1158.5 327.6,1156.7 331.1,1158.1 334.6,1158.5 337.5,1158.1 342.4,1152.5 345.2,1155.3 347.3,1158.8 350.1,1156.0 352.9,1156.7 356.4,1156.7 359.3,1154.6 362.1,1152.5 364.9,1152.5 367.7,1155.7 371.9,1153.4 376.8,1150.3 381.1,1153.2 384.6,1155.3 388.8,1155.3 392.3,1157.4 396.5,1160.5 399.4,1158.1 402.9,1154.3 406.4,1155.3 409.9,1158.1 413.4,1153.2 416.9,1154.6 420.5,1156.3 424.7,1156.0 428.9,1156.0 432.4,1156.0 433.7,1155.9 435.9,1153.7 438.8,1150.4 441.7,1151.1 445.3,1149.1 448.9,1147.2 454.0,1149.4 456.9,1147.7 461.9,1146.5 467.7,1147.2 471.3,1143.3 476.4,1142.9 479.3,1138.1 482.2,1139.6 485.4,1137.5 489.4,1141.5 494.5,1146.5 498.8,1147.7 503.1,1146.2 507.5,1146.5 511.1,1146.8 516.2,1148.7 519.8,1152.3 522.7,1151.9 527.0,1150.1 531.3,1148.7 535.7,1151.6 540.7,1155.2 542.9,1152.3 545.8,1152.3 549.1,1154.0 554.5,1150.6 558.8,1150.1 563.1,1150.1 567.5,1146.8 571.1,1146.8 574.7,1148.2 577.6,1145.8 581.2,1139.3 584.8,1132.8 587.7,1131.3 591.3,1130.6 594.2,1134.9 596.4,1136.1 599.3,1135.2 603.6,1137.1 605.8,1134.7 608.7,1139.3 611.6,1143.3 614.5,1140.4 618.1,1141.5 621.7,1139.6 626.8,1135.2 631.1,1137.5 634.0,1138.6 636.9,1134.9 639.8,1136.4 644.1,1133.5 647.7,1132.8 651.3,1134.9 655.7,1132.3 660.0,1133.5 665.1,1133.2 670.1,1131.3 674.5,1139.0 677.4,1135.7 681.0,1137.4 686.0,1136.0 688.9,1137.1 691.8,1135.2 696.2,1134.9 700.5,1133.5 703.4,1133.5 707.0,1137.1 710.6,1137.5 715.0,1139.0 720.8,1139.6 723.6,1144.3 726.5,1145.4 729.4,1150.1 733.8,1141.9 737.4,1143.9 742.4,1144.3 746.1,1145.1 751.1,1140.4 755.5,1143.3 759.1,1141.5 764.1,1142.9 769.9,1143.3 777.1,1143.6" fill="none" stroke="#f0f0f0" stroke-width="1.15" stroke-linejoin="round"/><text x="82" y="901.3" text-anchor="end" font-size="17" fill="#ff2b2b">90.63</text><text x="782" y="901.3" font-size="17" fill="#ff2b2b">40.03%</text><text x="82" y="945.5" text-anchor="end" font-size="17" fill="#ff2b2b">81.99</text><text x="782" y="945.5" font-size="17" fill="#ff2b2b">26.69%</text><text x="82" y="989.7" text-anchor="end" font-size="17" fill="#ff2b2b">73.36</text><text x="782" y="989.7" font-size="17" fill="#ff2b2b">13.34%</text><text x="82" y="1033.8" text-anchor="end" font-size="17" fill="#aeb0b4">64.72</text><text x="782" y="1033.8" font-size="17" fill="#aeb0b4">0.00%</text><text x="82" y="1078.0" text-anchor="end" font-size="17" fill="#1ccf52">56.08</text><text x="782" y="1078.0" font-size="17" fill="#1ccf52">13.34%</text><text x="82" y="1122.2" text-anchor="end" font-size="17" fill="#1ccf52">47.45</text><text x="782" y="1122.2" font-size="17" fill="#1ccf52">26.69%</text><text x="82" y="1166.4" text-anchor="end" font-size="17" fill="#1ccf52">38.81</text><text x="782" y="1166.4" font-size="17" fill="#1ccf52">40.03%</text><text x="86.5" y="1185" text-anchor="middle" font-size="17" fill="#aeb0b4">09:30</text><text x="173.0" y="1185" text-anchor="middle" font-size="17" fill="#aeb0b4">10:00</text><text x="259.5" y="1185" text-anchor="middle" font-size="17" fill="#aeb0b4">10:30</text><text x="346.0" y="1185" text-anchor="middle" font-size="17" fill="#aeb0b4">11:00</text><text x="432.5" y="1185" text-anchor="middle" font-size="17" fill="#aeb0b4">13:00</text><text x="519.0" y="1185" text-anchor="middle" font-size="17" fill="#aeb0b4">13:30</text><text x="605.5" y="1185" text-anchor="middle" font-size="17" fill="#aeb0b4">14:00</text><text x="692.0" y="1185" text-anchor="middle" font-size="17" fill="#aeb0b4">14:30</text><text x="778.5" y="1185" text-anchor="middle" font-size="17" fill="#aeb0b4">15:00</text></svg>
<div class="a" style="left:87px;top:866px;height:22px;overflow:hidden;line-height:26px;font-size:19px;white-space:nowrap;color:#e8e8e8"><span id="t1" style="letter-spacing:-0.35px">CFE_0008521MIV[中证1000当月平值IV]</span></div>
<div class="a" style="left:430px;top:866px;line-height:26px;font-size:19px;white-space:nowrap;color:#1ccf52">42.12</div>
<div class="a" style="left:493px;top:866px;line-height:26px;font-size:19px;white-space:nowrap;color:#1ccf52">-34.92%</div>
<svg class="a" style="left:856px;top:866px" width="848" height="323" viewBox="856 866 848 323"><line x1="940.5" y1="938.5" x2="1632.5" y2="938.5" stroke="#4a4a50" stroke-width="1" stroke-dasharray="1,3"/><line x1="940.5" y1="1027" x2="1632.5" y2="1027" stroke="#4a4a50" stroke-width="1" stroke-dasharray="1,3"/><line x1="940.5" y1="1117.5" x2="1632.5" y2="1117.5" stroke="#4a4a50" stroke-width="1" stroke-dasharray="1,3"/><line x1="1026.9" y1="894.5" x2="1026.9" y2="1161" stroke="#4a4a50" stroke-width="1" stroke-dasharray="1,3"/><line x1="1113.3" y1="894.5" x2="1113.3" y2="1161" stroke="#4a4a50" stroke-width="1" stroke-dasharray="1,3"/><line x1="1199.7" y1="894.5" x2="1199.7" y2="1161" stroke="#4a4a50" stroke-width="1" stroke-dasharray="1,3"/><line x1="1372.5" y1="894.5" x2="1372.5" y2="1161" stroke="#4a4a50" stroke-width="1" stroke-dasharray="1,3"/><line x1="1458.9" y1="894.5" x2="1458.9" y2="1161" stroke="#4a4a50" stroke-width="1" stroke-dasharray="1,3"/><line x1="1545.3000000000002" y1="894.5" x2="1545.3000000000002" y2="1161" stroke="#4a4a50" stroke-width="1" stroke-dasharray="1,3"/><line x1="940.5" y1="982.5" x2="1632.5" y2="982.5" stroke="#3d3d43" stroke-width="1.3"/><line x1="940.5" y1="1072.5" x2="1632.5" y2="1072.5" stroke="#3d3d43" stroke-width="1.3"/><line x1="1286.1" y1="894.5" x2="1286.1" y2="1161" stroke="#3d3d43" stroke-width="1.3"/><rect x="940.5" y="894.5" width="692.0" height="266.5" fill="none" stroke="#3d3d43" stroke-width="1.3"/><rect x="940.84" y="1071.70" width="1.3" height="88.80" fill="#e0171b"/><rect x="942.60" y="1094.03" width="1.3" height="66.47" fill="#14b81c"/><rect x="945.76" y="1108.10" width="1.3" height="52.40" fill="#14b81c"/><rect x="948.75" y="1112.14" width="1.3" height="48.36" fill="#e0171b"/><rect x="951.74" y="1120.94" width="1.3" height="39.56" fill="#14b81c"/><rect x="954.55" y="1123.22" width="1.3" height="37.28" fill="#e0171b"/><rect x="957.54" y="1122.17" width="1.3" height="38.33" fill="#e0171b"/><rect x="960.53" y="1127.09" width="1.3" height="33.41" fill="#e0171b"/><rect x="962.82" y="1124.98" width="1.3" height="35.52" fill="#14b81c"/><rect x="965.45" y="1132.01" width="1.3" height="28.49" fill="#14b81c"/><rect x="968.62" y="1130.26" width="1.3" height="30.24" fill="#14b81c"/><rect x="971.61" y="1134.12" width="1.3" height="26.38" fill="#e0171b"/><rect x="974.60" y="1135.00" width="1.3" height="25.50" fill="#14b81c"/><rect x="977.76" y="1138.17" width="1.3" height="22.33" fill="#14b81c"/><rect x="980.40" y="1135.00" width="1.3" height="25.50" fill="#14b81c"/><rect x="983.39" y="1134.12" width="1.3" height="26.38" fill="#e0171b"/><rect x="985.68" y="1133.24" width="1.3" height="27.26" fill="#e0171b"/><rect x="988.66" y="1132.01" width="1.3" height="28.49" fill="#e0171b"/><rect x="991.48" y="1133.24" width="1.3" height="27.26" fill="#14b81c"/><rect x="994.47" y="1144.15" width="1.3" height="16.35" fill="#14b81c"/><rect x="997.63" y="1139.05" width="1.3" height="21.45" fill="#14b81c"/><rect x="1000.62" y="1139.05" width="1.3" height="21.45" fill="#14b81c"/><rect x="1003.79" y="1135.00" width="1.3" height="25.50" fill="#14b81c"/><rect x="1005.90" y="1135.00" width="1.3" height="25.50" fill="#e0171b"/><rect x="1008.53" y="1140.28" width="1.3" height="20.22" fill="#e0171b"/><rect x="1011.52" y="1143.27" width="1.3" height="17.23" fill="#e0171b"/><rect x="1014.69" y="1144.15" width="1.3" height="16.35" fill="#e0171b"/><rect x="1017.68" y="1147.31" width="1.3" height="13.19" fill="#14b81c"/><rect x="1020.84" y="1149.07" width="1.3" height="11.43" fill="#14b81c"/><rect x="1023.48" y="1148.19" width="1.3" height="12.31" fill="#e0171b"/><rect x="1026.65" y="1146.08" width="1.3" height="14.42" fill="#e0171b"/><rect x="1028.76" y="1150.83" width="1.3" height="9.67" fill="#e0171b"/><rect x="1031.92" y="1148.19" width="1.3" height="12.31" fill="#14b81c"/><rect x="1034.91" y="1153.11" width="1.3" height="7.39" fill="#14b81c"/><rect x="1037.55" y="1152.06" width="1.3" height="8.44" fill="#14b81c"/><rect x="1040.71" y="1150.30" width="1.3" height="10.20" fill="#14b81c"/><rect x="1043.70" y="1153.11" width="1.3" height="7.39" fill="#e0171b"/><rect x="1046.34" y="1149.07" width="1.3" height="11.43" fill="#e0171b"/><rect x="1048.98" y="1148.19" width="1.3" height="12.31" fill="#e0171b"/><rect x="1051.62" y="1153.11" width="1.3" height="7.39" fill="#14b81c"/><rect x="1054.78" y="1149.07" width="1.3" height="11.43" fill="#e0171b"/><rect x="1057.77" y="1150.83" width="1.3" height="9.67" fill="#e0171b"/><rect x="1060.41" y="1149.42" width="1.3" height="11.08" fill="#e0171b"/><rect x="1063.57" y="1153.11" width="1.3" height="7.39" fill="#14b81c"/><rect x="1066.56" y="1153.11" width="1.3" height="7.39" fill="#e0171b"/><rect x="1069.55" y="1151.18" width="1.3" height="9.32" fill="#14b81c"/><rect x="1072.36" y="1154.35" width="1.3" height="6.15" fill="#14b81c"/><rect x="1075.35" y="1155.22" width="1.3" height="5.28" fill="#14b81c"/><rect x="1077.99" y="1155.22" width="1.3" height="5.28" fill="#e0171b"/><rect x="1080.63" y="1155.22" width="1.3" height="5.28" fill="#14b81c"/><rect x="1083.62" y="1155.22" width="1.3" height="5.28" fill="#14b81c"/><rect x="1086.78" y="1156.10" width="1.3" height="4.40" fill="#14b81c"/><rect x="1089.42" y="1155.22" width="1.3" height="5.28" fill="#14b81c"/><rect x="1092.06" y="1155.22" width="1.3" height="5.28" fill="#14b81c"/><rect x="1094.70" y="1153.11" width="1.3" height="7.39" fill="#14b81c"/><rect x="1097.69" y="1153.82" width="1.3" height="6.68" fill="#e0171b"/><rect x="1100.85" y="1153.11" width="1.3" height="7.39" fill="#14b81c"/><rect x="1103.49" y="1155.22" width="1.3" height="5.28" fill="#e0171b"/><rect x="1106.48" y="1156.10" width="1.3" height="4.40" fill="#14b81c"/><rect x="1109.64" y="1156.10" width="1.3" height="4.40" fill="#14b81c"/><rect x="1112.63" y="1153.47" width="1.3" height="7.03" fill="#e0171b"/><rect x="1114.92" y="1154.35" width="1.3" height="6.15" fill="#e0171b"/><rect x="1117.91" y="1156.10" width="1.3" height="4.40" fill="#14b81c"/><rect x="1121.07" y="1156.10" width="1.3" height="4.40" fill="#e0171b"/><rect x="1123.71" y="1155.22" width="1.3" height="5.28" fill="#14b81c"/><rect x="1126.70" y="1156.10" width="1.3" height="4.40" fill="#e0171b"/><rect x="1129.86" y="1156.98" width="1.3" height="3.52" fill="#14b81c"/><rect x="1132.50" y="1156.98" width="1.3" height="3.52" fill="#14b81c"/><rect x="1135.49" y="1156.98" width="1.3" height="3.52" fill="#14b81c"/><rect x="1138.13" y="1156.10" width="1.3" height="4.40" fill="#14b81c"/><rect x="1141.29" y="1156.98" width="1.3" height="3.52" fill="#14b81c"/><rect x="1144.28" y="1156.98" width="1.3" height="3.52" fill="#14b81c"/><rect x="1146.92" y="1156.98" width="1.3" height="3.52" fill="#14b81c"/><rect x="1150.09" y="1156.10" width="1.3" height="4.40" fill="#14b81c"/><rect x="1152.72" y="1156.10" width="1.3" height="4.40" fill="#14b81c"/><rect x="1155.71" y="1155.22" width="1.3" height="5.28" fill="#e0171b"/><rect x="1158.53" y="1156.10" width="1.3" height="4.40" fill="#14b81c"/><rect x="1161.52" y="1156.10" width="1.3" height="4.40" fill="#e0171b"/><rect x="1164.15" y="1155.22" width="1.3" height="5.28" fill="#e0171b"/><rect x="1167.32" y="1155.22" width="1.3" height="5.28" fill="#e0171b"/><rect x="1170.31" y="1156.10" width="1.3" height="4.40" fill="#e0171b"/><rect x="1172.94" y="1156.98" width="1.3" height="3.52" fill="#14b81c"/><rect x="1176.11" y="1156.98" width="1.3" height="3.52" fill="#14b81c"/><rect x="1179.10" y="1156.98" width="1.3" height="3.52" fill="#14b81c"/><rect x="1181.74" y="1157.33" width="1.3" height="3.17" fill="#e0171b"/><rect x="1184.37" y="1158.39" width="1.3" height="2.11" fill="#14b81c"/><rect x="1187.01" y="1157.33" width="1.3" height="3.17" fill="#e0171b"/><rect x="1190.53" y="1158.39" width="1.3" height="2.11" fill="#14b81c"/><rect x="1193.17" y="1157.33" width="1.3" height="3.17" fill="#14b81c"/><rect x="1195.80" y="1154.35" width="1.3" height="6.15" fill="#14b81c"/><rect x="1198.97" y="1155.22" width="1.3" height="5.28" fill="#e0171b"/><rect x="1201.08" y="1153.47" width="1.3" height="7.03" fill="#e0171b"/><rect x="1204.24" y="1157.33" width="1.3" height="3.17" fill="#14b81c"/><rect x="1207.23" y="1157.33" width="1.3" height="3.17" fill="#14b81c"/><rect x="1209.87" y="1156.98" width="1.3" height="3.52" fill="#14b81c"/><rect x="1213.39" y="1156.10" width="1.3" height="4.40" fill="#14b81c"/><rect x="1216.03" y="1156.10" width="1.3" height="4.40" fill="#14b81c"/><rect x="1218.66" y="1158.39" width="1.3" height="2.11" fill="#14b81c"/><rect x="1220.77" y="1155.22" width="1.3" height="5.28" fill="#e0171b"/><rect x="1223.94" y="1156.10" width="1.3" height="4.40" fill="#14b81c"/><rect x="1227.10" y="1157.33" width="1.3" height="3.17" fill="#14b81c"/><rect x="1230.09" y="1157.33" width="1.3" height="3.17" fill="#14b81c"/><rect x="1232.73" y="1156.10" width="1.3" height="4.40" fill="#e0171b"/><rect x="1235.90" y="1156.10" width="1.3" height="4.40" fill="#e0171b"/><rect x="1238.88" y="1157.33" width="1.3" height="3.17" fill="#14b81c"/><rect x="1241.52" y="1157.33" width="1.3" height="3.17" fill="#e0171b"/><rect x="1244.69" y="1156.10" width="1.3" height="4.40" fill="#e0171b"/><rect x="1247.15" y="1156.10" width="1.3" height="4.40" fill="#e0171b"/><rect x="1250.31" y="1157.33" width="1.3" height="3.17" fill="#14b81c"/><rect x="1252.95" y="1157.33" width="1.3" height="3.17" fill="#14b81c"/><rect x="1255.94" y="1158.39" width="1.3" height="2.11" fill="#14b81c"/><rect x="1259.11" y="1158.39" width="1.3" height="2.11" fill="#14b81c"/><rect x="1261.74" y="1158.39" width="1.3" height="2.11" fill="#e0171b"/><rect x="1264.38" y="1158.39" width="1.3" height="2.11" fill="#e0171b"/><rect x="1267.55" y="1158.39" width="1.3" height="2.11" fill="#e0171b"/><rect x="1270.54" y="1157.33" width="1.3" height="3.17" fill="#14b81c"/><rect x="1273.17" y="1158.39" width="1.3" height="2.11" fill="#14b81c"/><rect x="1275.81" y="1157.33" width="1.3" height="3.17" fill="#e0171b"/><rect x="1278.80" y="1158.39" width="1.3" height="2.11" fill="#e0171b"/><rect x="1281.97" y="1158.39" width="1.3" height="2.11" fill="#e0171b"/><rect x="1284.60" y="1159.09" width="1.3" height="1.41" fill="#e0171b"/><rect x="1286.78" y="1147.70" width="1.3" height="12.80" fill="#e0171b"/><rect x="1289.81" y="1153.68" width="1.3" height="6.82" fill="#14b81c"/><rect x="1292.76" y="1152.76" width="1.3" height="7.74" fill="#14b81c"/><rect x="1295.79" y="1152.76" width="1.3" height="7.74" fill="#14b81c"/><rect x="1298.74" y="1154.73" width="1.3" height="5.77" fill="#e0171b"/><rect x="1301.76" y="1155.72" width="1.3" height="4.78" fill="#e0171b"/><rect x="1304.72" y="1155.72" width="1.3" height="4.78" fill="#14b81c"/><rect x="1307.74" y="1155.72" width="1.3" height="4.78" fill="#e0171b"/><rect x="1309.85" y="1154.73" width="1.3" height="5.77" fill="#14b81c"/><rect x="1312.80" y="1154.73" width="1.3" height="5.77" fill="#14b81c"/><rect x="1315.83" y="1155.72" width="1.3" height="4.78" fill="#14b81c"/><rect x="1318.78" y="1154.73" width="1.3" height="5.77" fill="#e0171b"/><rect x="1321.81" y="1155.72" width="1.3" height="4.78" fill="#e0171b"/><rect x="1324.76" y="1155.72" width="1.3" height="4.78" fill="#14b81c"/><rect x="1327.78" y="1154.73" width="1.3" height="5.77" fill="#e0171b"/><rect x="1329.68" y="1154.73" width="1.3" height="5.77" fill="#14b81c"/><rect x="1332.85" y="1153.82" width="1.3" height="6.68" fill="#14b81c"/><rect x="1335.87" y="1155.72" width="1.3" height="4.78" fill="#14b81c"/><rect x="1338.82" y="1154.73" width="1.3" height="5.77" fill="#14b81c"/><rect x="1341.85" y="1152.76" width="1.3" height="7.74" fill="#e0171b"/><rect x="1344.80" y="1154.73" width="1.3" height="5.77" fill="#e0171b"/><rect x="1347.82" y="1155.72" width="1.3" height="4.78" fill="#14b81c"/><rect x="1350.78" y="1156.63" width="1.3" height="3.87" fill="#e0171b"/><rect x="1352.75" y="1155.72" width="1.3" height="4.78" fill="#14b81c"/><rect x="1355.91" y="1156.63" width="1.3" height="3.87" fill="#14b81c"/><rect x="1358.87" y="1156.63" width="1.3" height="3.87" fill="#14b81c"/><rect x="1361.89" y="1154.73" width="1.3" height="5.77" fill="#14b81c"/><rect x="1364.84" y="1154.73" width="1.3" height="5.77" fill="#14b81c"/><rect x="1367.87" y="1154.73" width="1.3" height="5.77" fill="#14b81c"/><rect x="1370.82" y="1153.68" width="1.3" height="6.82" fill="#e0171b"/><rect x="1372.93" y="1152.76" width="1.3" height="7.74" fill="#e0171b"/><rect x="1375.95" y="1155.72" width="1.3" height="4.78" fill="#e0171b"/><rect x="1378.91" y="1155.72" width="1.3" height="4.78" fill="#14b81c"/><rect x="1381.93" y="1155.72" width="1.3" height="4.78" fill="#14b81c"/><rect x="1384.89" y="1152.76" width="1.3" height="7.74" fill="#14b81c"/><rect x="1387.91" y="1154.73" width="1.3" height="5.77" fill="#e0171b"/><rect x="1390.86" y="1154.73" width="1.3" height="5.77" fill="#e0171b"/><rect x="1393.89" y="1153.82" width="1.3" height="6.68" fill="#e0171b"/><rect x="1396.00" y="1155.72" width="1.3" height="4.78" fill="#14b81c"/><rect x="1398.95" y="1156.63" width="1.3" height="3.87" fill="#e0171b"/><rect x="1401.97" y="1155.72" width="1.3" height="4.78" fill="#e0171b"/><rect x="1404.93" y="1155.72" width="1.3" height="4.78" fill="#14b81c"/><rect x="1407.95" y="1156.63" width="1.3" height="3.87" fill="#14b81c"/><rect x="1410.90" y="1155.72" width="1.3" height="4.78" fill="#e0171b"/><rect x="1413.93" y="1154.73" width="1.3" height="5.77" fill="#14b81c"/><rect x="1415.83" y="1154.73" width="1.3" height="5.77" fill="#14b81c"/><rect x="1418.85" y="1151.78" width="1.3" height="8.72" fill="#e0171b"/><rect x="1421.81" y="1153.68" width="1.3" height="6.82" fill="#14b81c"/><rect x="1424.83" y="1151.78" width="1.3" height="8.72" fill="#e0171b"/><rect x="1427.78" y="1154.73" width="1.3" height="5.77" fill="#e0171b"/><rect x="1430.81" y="1154.73" width="1.3" height="5.77" fill="#14b81c"/><rect x="1433.76" y="1153.82" width="1.3" height="6.68" fill="#14b81c"/><rect x="1436.78" y="1156.63" width="1.3" height="3.87" fill="#14b81c"/><rect x="1438.89" y="1154.73" width="1.3" height="5.77" fill="#14b81c"/><rect x="1441.85" y="1153.82" width="1.3" height="6.68" fill="#e0171b"/><rect x="1444.80" y="1153.68" width="1.3" height="6.82" fill="#e0171b"/><rect x="1447.82" y="1151.78" width="1.3" height="8.72" fill="#e0171b"/><rect x="1450.85" y="1154.73" width="1.3" height="5.77" fill="#e0171b"/><rect x="1453.80" y="1155.72" width="1.3" height="4.78" fill="#e0171b"/><rect x="1456.83" y="1155.72" width="1.3" height="4.78" fill="#e0171b"/><rect x="1458.72" y="1156.63" width="1.3" height="3.87" fill="#14b81c"/><rect x="1461.85" y="1155.66" width="1.3" height="4.84" fill="#e0171b"/><rect x="1464.88" y="1152.62" width="1.3" height="7.88" fill="#e0171b"/><rect x="1467.92" y="1155.66" width="1.3" height="4.84" fill="#14b81c"/><rect x="1470.89" y="1156.67" width="1.3" height="3.83" fill="#e0171b"/><rect x="1473.92" y="1156.67" width="1.3" height="3.83" fill="#14b81c"/><rect x="1476.82" y="1157.61" width="1.3" height="2.89" fill="#14b81c"/><rect x="1479.85" y="1157.61" width="1.3" height="2.89" fill="#14b81c"/><rect x="1481.88" y="1158.69" width="1.3" height="1.81" fill="#14b81c"/><rect x="1484.91" y="1158.69" width="1.3" height="1.81" fill="#14b81c"/><rect x="1487.88" y="1158.69" width="1.3" height="1.81" fill="#e0171b"/><rect x="1490.91" y="1156.67" width="1.3" height="3.83" fill="#14b81c"/><rect x="1493.81" y="1158.69" width="1.3" height="1.81" fill="#e0171b"/><rect x="1496.92" y="1158.69" width="1.3" height="1.81" fill="#e0171b"/><rect x="1499.81" y="1158.69" width="1.3" height="1.81" fill="#14b81c"/><rect x="1501.91" y="1158.69" width="1.3" height="1.81" fill="#14b81c"/><rect x="1504.87" y="1157.61" width="1.3" height="2.89" fill="#e0171b"/><rect x="1507.91" y="1157.61" width="1.3" height="2.89" fill="#14b81c"/><rect x="1510.80" y="1157.61" width="1.3" height="2.89" fill="#14b81c"/><rect x="1513.84" y="1157.61" width="1.3" height="2.89" fill="#14b81c"/><rect x="1516.80" y="1157.61" width="1.3" height="2.89" fill="#14b81c"/><rect x="1519.84" y="1157.61" width="1.3" height="2.89" fill="#14b81c"/><rect x="1522.87" y="1157.61" width="1.3" height="2.89" fill="#14b81c"/><rect x="1524.90" y="1157.61" width="1.3" height="2.89" fill="#14b81c"/><rect x="1527.94" y="1154.72" width="1.3" height="5.78" fill="#e0171b"/><rect x="1530.90" y="1156.67" width="1.3" height="3.83" fill="#e0171b"/><rect x="1533.94" y="1156.67" width="1.3" height="3.83" fill="#e0171b"/><rect x="1536.97" y="1156.67" width="1.3" height="3.83" fill="#e0171b"/><rect x="1539.94" y="1156.67" width="1.3" height="3.83" fill="#e0171b"/><rect x="1542.98" y="1155.66" width="1.3" height="4.84" fill="#e0171b"/><rect x="1544.93" y="1155.66" width="1.3" height="4.84" fill="#14b81c"/><rect x="1547.89" y="1156.67" width="1.3" height="3.83" fill="#e0171b"/><rect x="1550.93" y="1155.66" width="1.3" height="4.84" fill="#14b81c"/><rect x="1553.97" y="1156.67" width="1.3" height="3.83" fill="#14b81c"/><rect x="1556.93" y="1156.67" width="1.3" height="3.83" fill="#e0171b"/><rect x="1559.97" y="1154.72" width="1.3" height="5.78" fill="#e0171b"/><rect x="1562.86" y="1155.66" width="1.3" height="4.84" fill="#14b81c"/><rect x="1565.97" y="1154.72" width="1.3" height="5.78" fill="#e0171b"/><rect x="1567.92" y="1154.72" width="1.3" height="5.78" fill="#e0171b"/><rect x="1570.96" y="1154.72" width="1.3" height="5.78" fill="#e0171b"/><rect x="1573.92" y="1153.63" width="1.3" height="6.87" fill="#e0171b"/><rect x="1576.96" y="1151.68" width="1.3" height="8.82" fill="#e0171b"/><rect x="1580.00" y="1153.63" width="1.3" height="6.87" fill="#e0171b"/><rect x="1582.96" y="1151.68" width="1.3" height="8.82" fill="#e0171b"/><rect x="1585.85" y="1151.68" width="1.3" height="8.82" fill="#14b81c"/><rect x="1587.95" y="1154.72" width="1.3" height="5.78" fill="#e0171b"/><rect x="1590.91" y="1153.63" width="1.3" height="6.87" fill="#e0171b"/><rect x="1593.95" y="1153.63" width="1.3" height="6.87" fill="#e0171b"/><rect x="1596.99" y="1148.71" width="1.3" height="11.79" fill="#e0171b"/><rect x="1599.95" y="1150.74" width="1.3" height="9.76" fill="#e0171b"/><rect x="1602.99" y="1150.74" width="1.3" height="9.76" fill="#e0171b"/><rect x="1606.03" y="1149.65" width="1.3" height="10.85" fill="#14b81c"/><rect x="1608.92" y="1151.68" width="1.3" height="8.82" fill="#e0171b"/><rect x="1610.94" y="1150.74" width="1.3" height="9.76" fill="#e0171b"/><rect x="1613.98" y="1149.65" width="1.3" height="10.85" fill="#e0171b"/><rect x="1616.95" y="1149.65" width="1.3" height="10.85" fill="#14b81c"/><rect x="1619.98" y="1147.70" width="1.3" height="12.80" fill="#e0171b"/><rect x="1622.87" y="1159.78" width="1.3" height="0.72" fill="#e0171b"/><rect x="1631.91" y="1143.51" width="1.3" height="16.99" fill="#e0171b"/><polyline points="940.3,997.5 940.5,964.2 941.4,930.9 942.6,944.1 944.4,948.3 946.4,952.4 947.5,942.7 948.6,928.8 949.6,921.2 951.0,927.5 952.3,933.0 953.7,925.4 955.5,917.1 957.2,906.6 958.9,899.4 961.4,899.4 963.4,910.1 966.6,915.7 968.0,923.3 969.7,933.7 972.2,934.1 975.2,946.2 978.0,951.7 981.5,960.1 984.3,955.9 986.6,973.2 989.4,961.4 992.2,967.7 995.3,968.8 997.4,976.0 1000.2,989.2 1002.3,1001.0 1004.4,1011.4 1006.4,1007.6 1009.2,992.0 1012.7,984.3 1015.5,977.4 1018.2,987.1 1021.3,988.5 1023.8,974.6 1026.6,969.8 1029.3,965.6 1032.1,973.2 1034.9,975.3 1038.4,983.6 1041.5,987.1 1043.9,982.3 1046.0,974.6 1048.8,964.9 1052.2,964.9 1055.0,959.4 1058.5,951.0 1061.2,949.9 1064.7,951.0 1067.5,947.6 1070.3,953.5 1073.7,958.0 1075.8,959.4 1078.6,957.6 1082.1,960.8 1085.5,962.8 1087.6,964.6 1091.1,968.4 1093.2,974.6 1095.2,980.2 1098.7,977.7 1101.5,980.5 1104.3,976.7 1107.0,979.5 1110.5,980.5 1113.3,979.1 1115.4,972.5 1118.1,972.1 1120.9,966.6 1124.4,968.4 1127.1,965.6 1129.9,965.6 1133.4,968.0 1135.5,969.1 1138.9,973.2 1142.4,975.3 1145.9,977.4 1150.0,979.5 1153.5,983.6 1155.6,983.2 1159.1,988.5 1161.8,987.1 1165.3,980.9 1168.1,977.4 1170.8,976.3 1173.9,977.4 1176.4,981.3 1179.2,976.7 1181.9,975.3 1187.5,974.9 1190.3,976.7 1193.0,982.3 1196.5,990.2 1198.6,984.3 1201.1,969.8 1203.5,970.5 1207.6,973.2 1211.1,976.7 1213.9,980.5 1217.3,984.3 1219.1,987.8 1221.5,985.7 1224.3,990.2 1227.0,984.3 1230.5,987.4 1233.3,985.7 1236.1,980.5 1238.8,976.0 1241.6,975.3 1245.1,970.7 1247.8,969.8 1250.6,966.3 1253.4,970.5 1256.2,973.9 1259.6,975.3 1262.4,975.7 1264.5,973.9 1267.3,977.4 1270.7,980.5 1273.5,975.3 1276.3,970.7 1279.8,969.4 1283.2,968.8 1286.0,968.4 1287.3,965.7 1289.8,970.2 1292.0,975.8 1293.4,981.4 1296.2,987.4 1299.0,986.4 1301.8,985.7 1304.6,986.8 1306.7,986.4 1308.8,985.7 1310.2,991.3 1313.8,994.1 1316.6,997.6 1319.4,997.2 1322.2,995.5 1325.0,1000.0 1328.5,998.3 1332.1,999.7 1336.3,1002.3 1339.8,1007.1 1344.0,997.6 1347.5,997.6 1351.5,993.8 1353.9,996.2 1356.7,996.6 1359.5,1001.1 1363.0,1003.3 1365.8,1004.7 1369.3,1006.5 1372.1,1002.5 1376.4,999.7 1379.9,1004.7 1383.4,1008.5 1385.5,1009.3 1388.3,1005.1 1391.1,998.3 1394.0,992.7 1396.8,994.1 1399.6,992.0 1402.4,990.6 1405.2,1001.8 1407.3,1006.8 1409.4,1008.2 1411.5,1007.9 1413.7,1012.4 1416.5,1018.7 1419.3,1020.1 1422.1,1025.3 1424.9,1020.8 1427.7,1018.7 1431.2,1022.2 1434.8,1022.2 1436.9,1023.4 1439.7,1027.2 1442.5,1027.2 1445.3,1024.4 1447.4,1017.3 1450.2,1011.3 1454.5,1007.5 1457.3,1006.8 1459.4,1010.3 1461.5,1006.1 1462.9,1001.8 1465.0,993.4 1468.5,996.2 1471.3,993.4 1474.1,996.9 1477.0,1002.5 1479.8,1008.2 1482.6,1011.0 1485.4,1013.1 1488.2,1012.4 1491.0,1016.6 1495.3,1017.3 1498.1,1017.3 1502.3,1019.7 1505.8,1017.3 1508.6,1019.4 1512.1,1022.5 1516.4,1025.1 1519.9,1026.2 1522.7,1027.2 1525.5,1028.6 1527.6,1018.3 1531.1,1017.3 1533.9,1017.3 1536.8,1013.1 1540.3,1011.3 1544.5,1009.6 1548.0,1009.9 1550.8,1011.3 1554.1,1012.7 1557.2,1008.9 1560.7,1005.4 1564.2,1004.7 1567.7,997.6 1571.2,994.1 1574.0,989.9 1576.8,984.0 1579.7,982.1 1583.2,977.9 1586.7,981.7 1590.2,978.6 1594.4,974.4 1597.2,970.9 1600.1,966.7 1603.6,966.4 1605.7,967.4 1610.6,964.3 1614.1,963.4 1617.6,964.3 1621.9,962.5 1626.8,962.5 1631.7,962.5" fill="none" stroke="#f0f0f0" stroke-width="1.15" stroke-linejoin="round"/><text x="936" y="901.3" text-anchor="end" font-size="17" fill="#ff2b2b">5633</text><text x="1636" y="901.3" font-size="17" fill="#ff2b2b">2.48%</text><text x="936" y="945.3" text-anchor="end" font-size="17" fill="#ff2b2b">5565</text><text x="1636" y="945.3" font-size="17" fill="#ff2b2b">1.24%</text><text x="936" y="989.3" text-anchor="end" font-size="17" fill="#aeb0b4">5496</text><text x="1636" y="989.3" font-size="17" fill="#aeb0b4">0.00%</text><text x="936" y="1033.8" text-anchor="end" font-size="17" fill="#1ccf52">5428</text><text x="1636" y="1033.8" font-size="17" fill="#1ccf52">1.24%</text><text x="936" y="1079.3" text-anchor="end" font-size="17" fill="#1ccf52">5360</text><text x="1636" y="1079.3" font-size="17" fill="#1ccf52">2.48%</text><text x="938" y="1123.5" text-anchor="end" font-size="17" fill="#aeb0b4">63.87亿</text><text x="1636" y="1123.5" font-size="17" fill="#aeb0b4">63.87亿</text><text x="940.5" y="1185" text-anchor="middle" font-size="17" fill="#aeb0b4">09:30</text><text x="1026.9" y="1185" text-anchor="middle" font-size="17" fill="#aeb0b4">10:00</text><text x="1113.3" y="1185" text-anchor="middle" font-size="17" fill="#aeb0b4">10:30</text><text x="1199.7" y="1185" text-anchor="middle" font-size="17" fill="#aeb0b4">11:00</text><text x="1286.1" y="1185" text-anchor="middle" font-size="17" fill="#aeb0b4">13:00</text><text x="1372.5" y="1185" text-anchor="middle" font-size="17" fill="#aeb0b4">13:30</text><text x="1458.9" y="1185" text-anchor="middle" font-size="17" fill="#aeb0b4">14:00</text><text x="1545.3" y="1185" text-anchor="middle" font-size="17" fill="#aeb0b4">14:30</text><text x="1631.7" y="1185" text-anchor="middle" font-size="17" fill="#aeb0b4">15:00</text></svg>
<div class="a" style="left:941px;top:866px;line-height:26px;font-size:19px;white-space:nowrap;color:#e8e8e8"><span id="t2" style="letter-spacing:0.15px">000852[中证1000]</span></div>
<div class="a" style="left:1110px;top:866px;line-height:26px;font-size:19px;white-space:nowrap;color:#ff2b2b">5535.05</div>
<div class="a" style="left:1194px;top:866px;line-height:26px;font-size:19px;white-space:nowrap;color:#ff2b2b">0.70%</div>
<svg class="a" style="left:1708px;top:866px" width="851" height="323" viewBox="1708 866 851 323"><line x1="1771.5" y1="972.5" x2="2553" y2="972.5" stroke="#55555b" stroke-width="1" stroke-dasharray="1,2.5"/><line x1="1771.5" y1="1034.3" x2="2553" y2="1034.3" stroke="#55555b" stroke-width="1" stroke-dasharray="1,2.5"/><line x1="1771.5" y1="1096.3" x2="2553" y2="1096.3" stroke="#55555b" stroke-width="1" stroke-dasharray="1,2.5"/><line x1="1771.5" y1="910" x2="1771.5" y2="1158.5" stroke="#3d3d43" stroke-width="1.2"/><line x1="1771" y1="1158.5" x2="2553" y2="1158.5" stroke="#3d3d43" stroke-width="1.2"/><text x="1768" y="917.3" text-anchor="end" font-size="19" fill="#aeb0b4">65.00</text><text x="1768" y="979.5" text-anchor="end" font-size="19" fill="#aeb0b4">54.00</text><text x="1768" y="1041.3" text-anchor="end" font-size="19" fill="#aeb0b4">43.00</text><text x="1768" y="1103.3" text-anchor="end" font-size="19" fill="#aeb0b4">32.00</text><text x="1768" y="1165.0" text-anchor="end" font-size="19" fill="#aeb0b4">21.00</text><text x="1837.6" y="1181" text-anchor="middle" font-size="19" fill="#aeb0b4">20250418</text><text x="1966.9" y="1181" text-anchor="middle" font-size="19" fill="#aeb0b4">20250516</text><text x="2096.1" y="1181" text-anchor="middle" font-size="19" fill="#aeb0b4">20250620</text><text x="2224.7" y="1181" text-anchor="middle" font-size="19" fill="#aeb0b4">20250919</text><text x="2353.9" y="1181" text-anchor="middle" font-size="19" fill="#aeb0b4">20251219</text><text x="2483.2" y="1181" text-anchor="middle" font-size="19" fill="#aeb0b4">20260320</text><polyline points="1837.6,1153.7 1966.9,1151.7 2096.1,1152.7 2224.7,1156.7 2353.9,1154.7 2483.2,1152.7" fill="none" stroke="#4c9e9a" stroke-width="1.2"/><circle cx="1837.6" cy="1153.7" r="2.3" fill="#4c9e9a"/><circle cx="1966.9" cy="1151.7" r="2.3" fill="#4c9e9a"/><circle cx="2096.1" cy="1152.7" r="2.3" fill="#4c9e9a"/><circle cx="2224.7" cy="1156.7" r="2.3" fill="#4c9e9a"/><circle cx="2353.9" cy="1154.7" r="2.3" fill="#4c9e9a"/><circle cx="2483.2" cy="1152.7" r="2.3" fill="#4c9e9a"/><polyline points="1837.6,1038.9 1966.9,1068.8 2096.1,1094 2224.7,1119.8 2353.9,1124.9 2483.2,1131.9" fill="none" stroke="#1f8fd0" stroke-width="1.2"/><circle cx="1837.6" cy="1038.9" r="2.3" fill="#1f8fd0"/><circle cx="1966.9" cy="1068.8" r="2.3" fill="#1f8fd0"/><circle cx="2096.1" cy="1094" r="2.3" fill="#1f8fd0"/><circle cx="2224.7" cy="1119.8" r="2.3" fill="#1f8fd0"/><circle cx="2353.9" cy="1124.9" r="2.3" fill="#1f8fd0"/><circle cx="2483.2" cy="1131.9" r="2.3" fill="#1f8fd0"/><polyline points="1837.6,912 1966.9,1047 2096.1,1060.7 2224.7,1115.8 2353.9,1104 2483.2,1135.9" fill="none" stroke="#d07716" stroke-width="1.2"/><circle cx="1837.6" cy="912" r="2.3" fill="#d07716"/><circle cx="1966.9" cy="1047" r="2.3" fill="#d07716"/><circle cx="2096.1" cy="1060.7" r="2.3" fill="#d07716"/><circle cx="2224.7" cy="1115.8" r="2.3" fill="#d07716"/><circle cx="2353.9" cy="1104" r="2.3" fill="#d07716"/><circle cx="2483.2" cy="1135.9" r="2.3" fill="#d07716"/></svg>
<div class="a" style="left:1718px;top:869px;line-height:26px;font-size:17px;font-weight:bold;color:#f0f0f0;white-space:nowrap">期限结构</div>
<div class="a" style="left:1831px;top:869px;line-height:26px;font-size:18px;color:#1f8fd0;white-space:nowrap">今天</div>
<div class="a" style="left:1881px;top:869px;line-height:26px;font-size:18px;color:#d07716;white-space:nowrap">昨天</div>
<div class="a" style="left:1931px;top:869px;line-height:26px;font-size:18px;color:#4c9e9a;white-space:nowrap">一周前</div>
</div>
</body>
</html>
